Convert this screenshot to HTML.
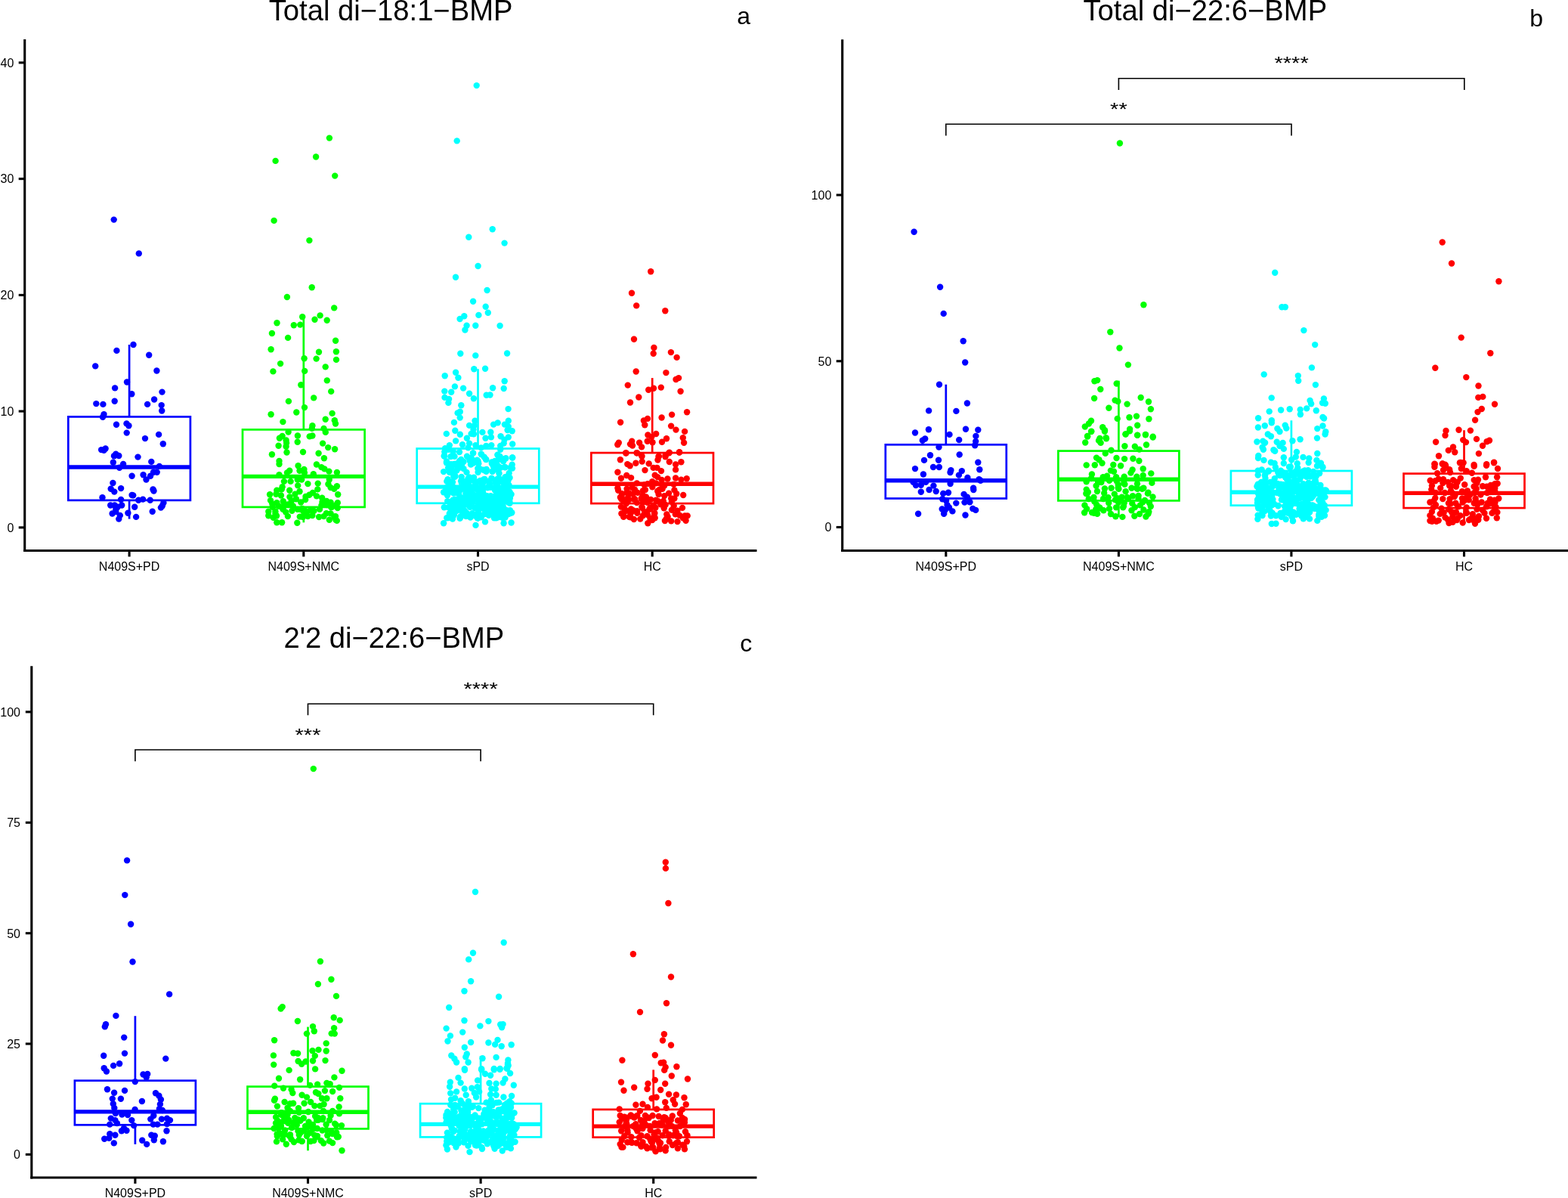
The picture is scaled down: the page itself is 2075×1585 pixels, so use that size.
<!DOCTYPE html>
<html><head><meta charset="utf-8"><title>BMP plots</title>
<style>html,body{margin:0;padding:0;background:#fff;}body{width:2075px;height:1585px;overflow:hidden;}svg{display:block;}</style>
</head><body>
<svg width="2075" height="1585" viewBox="0 0 2075 1585">
<rect width="2075" height="1585" fill="#fff"/>
<g stroke="#000" stroke-width="3.1" fill="none">
<line x1="32.7" y1="52.1" x2="32.7" y2="730.0"/>
<line x1="31.2" y1="728.5" x2="1001.5" y2="728.5"/>
<line x1="24.7" y1="697.9" x2="32.7" y2="697.9"/>
<line x1="24.7" y1="544.1" x2="32.7" y2="544.1"/>
<line x1="24.7" y1="390.4" x2="32.7" y2="390.4"/>
<line x1="24.7" y1="236.6" x2="32.7" y2="236.6"/>
<line x1="24.7" y1="82.9" x2="32.7" y2="82.9"/>
<line x1="171.1" y1="728.5" x2="171.1" y2="736.5"/>
<line x1="401.8" y1="728.5" x2="401.8" y2="736.5"/>
<line x1="632.5" y1="728.5" x2="632.5" y2="736.5"/>
<line x1="863.2" y1="728.5" x2="863.2" y2="736.5"/>
</g>
<g style="font-family:'Liberation Sans',Arial,Helvetica,sans-serif;font-size:16px" fill="#000">
<text x="18.4" y="703.7" text-anchor="end">0</text>
<text x="18.4" y="549.9" text-anchor="end">10</text>
<text x="18.4" y="396.2" text-anchor="end">20</text>
<text x="18.4" y="242.4" text-anchor="end">30</text>
<text x="18.4" y="88.7" text-anchor="end">40</text>
<text x="171.1" y="754.8" text-anchor="middle">N409S+PD</text>
<text x="401.8" y="754.8" text-anchor="middle">N409S+NMC</text>
<text x="632.5" y="754.8" text-anchor="middle">sPD</text>
<text x="863.2" y="754.8" text-anchor="middle">HC</text>
</g>
<text x="517.1" y="27.4" text-anchor="middle" style="font-family:'Liberation Sans',Arial,Helvetica,sans-serif;font-size:38.2px" fill="#000">Total di−18:1−BMP</text>
<text x="975.3" y="32.3" style="font-family:'Liberation Sans',Arial,Helvetica,sans-serif;font-size:32px" fill="#000">a</text>
<g stroke="#0000ff" fill="none" stroke-width="2.7">
<line x1="171.1" y1="456.0" x2="171.1" y2="551.4"/>
<line x1="171.1" y1="661.9" x2="171.1" y2="686.6"/>
<rect x="90.3" y="551.4" width="161.6" height="110.5"/>
<line x1="90.3" y1="618.0" x2="251.9" y2="618.0" stroke-width="5.4"/>
</g>
<g stroke="#00ff00" fill="none" stroke-width="2.7">
<line x1="401.8" y1="422.3" x2="401.8" y2="568.4"/>
<line x1="401.8" y1="670.9" x2="401.8" y2="691.3"/>
<rect x="321.0" y="568.4" width="161.6" height="102.5"/>
<line x1="321.0" y1="630.4" x2="482.6" y2="630.4" stroke-width="5.4"/>
</g>
<g stroke="#00ffff" fill="none" stroke-width="2.7">
<line x1="632.5" y1="488.2" x2="632.5" y2="593.5"/>
<line x1="632.5" y1="665.8" x2="632.5" y2="690.0"/>
<rect x="551.7" y="593.5" width="161.6" height="72.3"/>
<line x1="551.7" y1="644.1" x2="713.3" y2="644.1" stroke-width="5.4"/>
</g>
<g stroke="#ff0000" fill="none" stroke-width="2.7">
<line x1="863.2" y1="500.1" x2="863.2" y2="599.1"/>
<line x1="863.2" y1="666.1" x2="863.2" y2="692.0"/>
<rect x="782.4" y="599.1" width="161.6" height="67.0"/>
<line x1="782.4" y1="640.2" x2="944.0" y2="640.2" stroke-width="5.4"/>
</g>
<g fill="#0000ff"><circle cx="150.7" cy="290.6" r="4.2"/><circle cx="183.8" cy="335.4" r="4.2"/><circle cx="176.5" cy="456.0" r="4.2"/><circle cx="154.4" cy="463.9" r="4.2"/><circle cx="197.2" cy="469.7" r="4.2"/><circle cx="126.2" cy="484.4" r="4.2"/><circle cx="207.4" cy="490.5" r="4.2"/><circle cx="168.0" cy="505.5" r="4.2"/><circle cx="152.1" cy="513.4" r="4.2"/><circle cx="174.3" cy="521.3" r="4.2"/><circle cx="214.5" cy="518.6" r="4.2"/><circle cx="204.1" cy="528.5" r="4.2"/><circle cx="127.3" cy="534.1" r="4.2"/><circle cx="136.4" cy="534.9" r="4.2"/><circle cx="151.7" cy="530.8" r="4.2"/><circle cx="195.1" cy="534.9" r="4.2"/><circle cx="213.7" cy="536.1" r="4.2"/><circle cx="214.2" cy="543.5" r="4.2"/><circle cx="137.5" cy="548.1" r="4.2"/><circle cx="136.0" cy="551.7" r="4.2"/><circle cx="154.0" cy="561.7" r="4.2"/><circle cx="167.5" cy="560.4" r="4.2"/><circle cx="170.4" cy="563.2" r="4.2"/><circle cx="167.7" cy="572.6" r="4.2"/><circle cx="210.1" cy="574.9" r="4.2"/><circle cx="192.0" cy="580.1" r="4.2"/><circle cx="215.8" cy="587.2" r="4.2"/><circle cx="134.1" cy="595.1" r="4.2"/><circle cx="139.6" cy="593.5" r="4.2"/><circle cx="137.5" cy="595.9" r="4.2"/><circle cx="153.3" cy="600.6" r="4.2"/><circle cx="151.0" cy="603.3" r="4.2"/><circle cx="157.3" cy="603.0" r="4.2"/><circle cx="182.5" cy="604.6" r="4.2"/><circle cx="149.8" cy="611.7" r="4.2"/><circle cx="200.3" cy="610.9" r="4.2"/><circle cx="163.1" cy="614.0" r="4.2"/><circle cx="158.1" cy="618.8" r="4.2"/><circle cx="210.9" cy="616.9" r="4.2"/><circle cx="174.6" cy="629.8" r="4.2"/><circle cx="189.6" cy="628.2" r="4.2"/><circle cx="193.5" cy="634.5" r="4.2"/><circle cx="199.1" cy="629.8" r="4.2"/><circle cx="203.0" cy="624.8" r="4.2"/><circle cx="207.7" cy="624.8" r="4.2"/><circle cx="149.4" cy="639.0" r="4.2"/><circle cx="146.7" cy="646.8" r="4.2"/><circle cx="151.3" cy="650.6" r="4.2"/><circle cx="160.1" cy="646.1" r="4.2"/><circle cx="202.5" cy="647.5" r="4.2"/><circle cx="203.5" cy="649.5" r="4.2"/><circle cx="174.6" cy="655.0" r="4.2"/><circle cx="176.2" cy="655.4" r="4.2"/><circle cx="135.5" cy="658.2" r="4.2"/><circle cx="160.1" cy="661.0" r="4.2"/><circle cx="183.3" cy="661.7" r="4.2"/><circle cx="189.1" cy="660.6" r="4.2"/><circle cx="198.7" cy="661.7" r="4.2"/><circle cx="216.4" cy="665.3" r="4.2"/><circle cx="214.8" cy="669.2" r="4.2"/><circle cx="212.9" cy="671.6" r="4.2"/><circle cx="146.2" cy="668.5" r="4.2"/><circle cx="151.7" cy="668.5" r="4.2"/><circle cx="161.2" cy="668.5" r="4.2"/><circle cx="155.7" cy="670.8" r="4.2"/><circle cx="153.3" cy="674.0" r="4.2"/><circle cx="178.2" cy="670.8" r="4.2"/><circle cx="148.6" cy="679.5" r="4.2"/><circle cx="153.3" cy="677.1" r="4.2"/><circle cx="158.8" cy="681.9" r="4.2"/><circle cx="157.3" cy="686.6" r="4.2"/><circle cx="169.4" cy="678.7" r="4.2"/><circle cx="180.1" cy="683.9" r="4.2"/><circle cx="201.7" cy="676.7" r="4.2"/></g>
<g fill="#00ff00"><circle cx="435.9" cy="182.6" r="4.2"/><circle cx="418.1" cy="207.5" r="4.2"/><circle cx="364.6" cy="212.9" r="4.2"/><circle cx="443.2" cy="232.6" r="4.2"/><circle cx="362.6" cy="291.9" r="4.2"/><circle cx="409.4" cy="318.1" r="4.2"/><circle cx="412.7" cy="380.3" r="4.2"/><circle cx="379.9" cy="393.0" r="4.2"/><circle cx="442.2" cy="407.4" r="4.2"/><circle cx="400.2" cy="419.3" r="4.2"/><circle cx="423.6" cy="417.4" r="4.2"/><circle cx="416.5" cy="422.8" r="4.2"/><circle cx="432.7" cy="423.7" r="4.2"/><circle cx="366.5" cy="427.2" r="4.2"/><circle cx="388.8" cy="430.2" r="4.2"/><circle cx="397.3" cy="429.6" r="4.2"/><circle cx="359.9" cy="441.0" r="4.2"/><circle cx="381.1" cy="446.9" r="4.2"/><circle cx="444.1" cy="450.7" r="4.2"/><circle cx="358.6" cy="462.2" r="4.2"/><circle cx="422.0" cy="465.8" r="4.2"/><circle cx="444.9" cy="465.3" r="4.2"/><circle cx="402.6" cy="474.3" r="4.2"/><circle cx="418.6" cy="474.6" r="4.2"/><circle cx="445.0" cy="475.9" r="4.2"/><circle cx="371.1" cy="481.1" r="4.2"/><circle cx="430.7" cy="485.4" r="4.2"/><circle cx="361.4" cy="491.4" r="4.2"/><circle cx="403.2" cy="490.9" r="4.2"/><circle cx="432.8" cy="503.4" r="4.2"/><circle cx="398.3" cy="509.3" r="4.2"/><circle cx="438.2" cy="517.9" r="4.2"/><circle cx="415.2" cy="526.4" r="4.2"/><circle cx="381.9" cy="530.9" r="4.2"/><circle cx="403.0" cy="539.1" r="4.2"/><circle cx="358.6" cy="548.3" r="4.2"/><circle cx="392.3" cy="545.5" r="4.2"/><circle cx="439.6" cy="546.9" r="4.2"/><circle cx="430.7" cy="554.7" r="4.2"/><circle cx="442.8" cy="556.2" r="4.2"/><circle cx="374.4" cy="558.1" r="4.2"/><circle cx="444.0" cy="560.5" r="4.2"/><circle cx="413.4" cy="563.2" r="4.2"/><circle cx="412.8" cy="566.9" r="4.2"/><circle cx="428.5" cy="566.9" r="4.2"/><circle cx="430.8" cy="571.9" r="4.2"/><circle cx="381.6" cy="571.5" r="4.2"/><circle cx="369.9" cy="579.7" r="4.2"/><circle cx="373.6" cy="577.0" r="4.2"/><circle cx="378.6" cy="582.4" r="4.2"/><circle cx="379.1" cy="586.1" r="4.2"/><circle cx="378.6" cy="590.7" r="4.2"/><circle cx="379.5" cy="598.5" r="4.2"/><circle cx="368.6" cy="589.8" r="4.2"/><circle cx="393.9" cy="576.5" r="4.2"/><circle cx="393.7" cy="584.7" r="4.2"/><circle cx="409.7" cy="577.4" r="4.2"/><circle cx="413.4" cy="576.5" r="4.2"/><circle cx="427.1" cy="586.6" r="4.2"/><circle cx="434.2" cy="592.1" r="4.2"/><circle cx="443.1" cy="594.2" r="4.2"/><circle cx="401.0" cy="598.0" r="4.2"/><circle cx="359.9" cy="601.2" r="4.2"/><circle cx="421.6" cy="599.8" r="4.2"/><circle cx="428.9" cy="606.2" r="4.2"/><circle cx="369.5" cy="609.9" r="4.2"/><circle cx="369.5" cy="614.0" r="4.2"/><circle cx="394.6" cy="616.3" r="4.2"/><circle cx="418.9" cy="614.5" r="4.2"/><circle cx="425.3" cy="618.1" r="4.2"/><circle cx="429.4" cy="620.4" r="4.2"/><circle cx="435.4" cy="623.6" r="4.2"/><circle cx="445.9" cy="625.0" r="4.2"/><circle cx="383.2" cy="622.7" r="4.2"/><circle cx="380.0" cy="625.4" r="4.2"/><circle cx="402.4" cy="620.9" r="4.2"/><circle cx="402.9" cy="625.4" r="4.2"/><circle cx="396.5" cy="622.7" r="4.2"/><circle cx="369.5" cy="628.2" r="4.2"/><circle cx="414.8" cy="627.3" r="4.2"/><circle cx="435.8" cy="634.6" r="4.2"/><circle cx="375.9" cy="636.9" r="4.2"/><circle cx="384.6" cy="636.9" r="4.2"/><circle cx="393.7" cy="634.6" r="4.2"/><circle cx="399.2" cy="634.6" r="4.2"/><circle cx="394.2" cy="642.4" r="4.2"/><circle cx="407.4" cy="640.1" r="4.2"/><circle cx="420.7" cy="639.6" r="4.2"/><circle cx="434.4" cy="640.5" r="4.2"/><circle cx="445.9" cy="643.3" r="4.2"/><circle cx="437.6" cy="645.1" r="4.2"/><circle cx="442.2" cy="646.9" r="4.2"/><circle cx="373.6" cy="644.2" r="4.2"/><circle cx="366.3" cy="648.8" r="4.2"/><circle cx="372.7" cy="647.4" r="4.2"/><circle cx="383.2" cy="648.8" r="4.2"/><circle cx="396.5" cy="650.2" r="4.2"/><circle cx="420.3" cy="647.4" r="4.2"/><circle cx="413.9" cy="652.0" r="4.2"/><circle cx="409.3" cy="654.7" r="4.2"/><circle cx="357.1" cy="654.3" r="4.2"/><circle cx="365.4" cy="653.8" r="4.2"/><circle cx="390.5" cy="653.8" r="4.2"/><circle cx="391.9" cy="660.2" r="4.2"/><circle cx="404.2" cy="661.1" r="4.2"/><circle cx="426.2" cy="658.8" r="4.2"/><circle cx="432.2" cy="663.0" r="4.2"/><circle cx="437.6" cy="664.8" r="4.2"/><circle cx="447.2" cy="654.3" r="4.2"/><circle cx="446.8" cy="665.2" r="4.2"/><circle cx="360.3" cy="666.6" r="4.2"/><circle cx="369.0" cy="669.8" r="4.2"/><circle cx="376.3" cy="667.5" r="4.2"/><circle cx="380.9" cy="667.5" r="4.2"/><circle cx="387.8" cy="669.4" r="4.2"/><circle cx="355.3" cy="676.7" r="4.2"/><circle cx="355.3" cy="682.2" r="4.2"/><circle cx="364.4" cy="679.4" r="4.2"/><circle cx="374.5" cy="673.9" r="4.2"/><circle cx="378.2" cy="677.6" r="4.2"/><circle cx="380.9" cy="683.1" r="4.2"/><circle cx="386.4" cy="675.8" r="4.2"/><circle cx="393.7" cy="673.9" r="4.2"/><circle cx="400.1" cy="673.0" r="4.2"/><circle cx="401.0" cy="684.0" r="4.2"/><circle cx="407.4" cy="683.1" r="4.2"/><circle cx="411.1" cy="674.9" r="4.2"/><circle cx="423.0" cy="673.9" r="4.2"/><circle cx="422.1" cy="684.0" r="4.2"/><circle cx="428.5" cy="683.1" r="4.2"/><circle cx="435.8" cy="687.7" r="4.2"/><circle cx="444.0" cy="683.1" r="4.2"/><circle cx="446.8" cy="672.1" r="4.2"/><circle cx="437.6" cy="679.4" r="4.2"/><circle cx="361.7" cy="684.9" r="4.2"/><circle cx="366.3" cy="691.3" r="4.2"/><circle cx="373.1" cy="691.3" r="4.2"/><circle cx="393.3" cy="691.8" r="4.2"/><circle cx="406.5" cy="676.7" r="4.2"/><circle cx="397.8" cy="674.0" r="4.2"/><circle cx="439.3" cy="670.8" r="4.2"/><circle cx="402.7" cy="675.0" r="4.2"/><circle cx="374.3" cy="672.4" r="4.2"/><circle cx="413.4" cy="682.0" r="4.2"/><circle cx="366.3" cy="665.3" r="4.2"/><circle cx="366.0" cy="682.5" r="4.2"/><circle cx="419.0" cy="656.4" r="4.2"/><circle cx="444.4" cy="687.8" r="4.2"/><circle cx="415.5" cy="675.9" r="4.2"/><circle cx="371.9" cy="655.5" r="4.2"/><circle cx="404.5" cy="657.0" r="4.2"/><circle cx="374.7" cy="663.2" r="4.2"/><circle cx="360.6" cy="670.8" r="4.2"/><circle cx="396.8" cy="683.6" r="4.2"/><circle cx="403.7" cy="676.8" r="4.2"/><circle cx="402.0" cy="677.5" r="4.2"/><circle cx="398.2" cy="664.5" r="4.2"/><circle cx="445.8" cy="688.9" r="4.2"/><circle cx="431.9" cy="679.1" r="4.2"/><circle cx="385.7" cy="662.8" r="4.2"/><circle cx="383.4" cy="657.4" r="4.2"/><circle cx="425.4" cy="668.6" r="4.2"/><circle cx="432.5" cy="668.1" r="4.2"/><circle cx="442.3" cy="683.8" r="4.2"/><circle cx="358.0" cy="662.1" r="4.2"/><circle cx="438.1" cy="671.0" r="4.2"/><circle cx="444.3" cy="668.5" r="4.2"/><circle cx="364.4" cy="676.4" r="4.2"/><circle cx="426.5" cy="664.2" r="4.2"/></g>
<g fill="#00ffff"><circle cx="630.7" cy="113.1" r="4.2"/><circle cx="604.7" cy="186.4" r="4.2"/><circle cx="651.7" cy="303.2" r="4.2"/><circle cx="620.3" cy="313.7" r="4.2"/><circle cx="667.6" cy="321.6" r="4.2"/><circle cx="632.6" cy="352.0" r="4.2"/><circle cx="603.0" cy="366.7" r="4.2"/><circle cx="644.6" cy="384.0" r="4.2"/><circle cx="626.1" cy="398.8" r="4.2"/><circle cx="642.7" cy="405.8" r="4.2"/><circle cx="645.8" cy="413.8" r="4.2"/><circle cx="633.4" cy="416.9" r="4.2"/><circle cx="614.3" cy="418.2" r="4.2"/><circle cx="608.6" cy="422.0" r="4.2"/><circle cx="617.6" cy="430.8" r="4.2"/><circle cx="615.4" cy="436.5" r="4.2"/><circle cx="629.3" cy="430.8" r="4.2"/><circle cx="661.6" cy="431.0" r="4.2"/><circle cx="609.3" cy="467.7" r="4.2"/><circle cx="629.3" cy="470.4" r="4.2"/><circle cx="671.1" cy="467.5" r="4.2"/><circle cx="627.3" cy="488.2" r="4.2"/><circle cx="642.1" cy="487.8" r="4.2"/><circle cx="588.7" cy="497.2" r="4.2"/><circle cx="603.1" cy="492.7" r="4.2"/><circle cx="606.4" cy="499.7" r="4.2"/><circle cx="667.7" cy="504.2" r="4.2"/><circle cx="666.7" cy="514.0" r="4.2"/><circle cx="601.9" cy="511.4" r="4.2"/><circle cx="613.1" cy="513.6" r="4.2"/><circle cx="652.1" cy="513.2" r="4.2"/><circle cx="588.3" cy="517.6" r="4.2"/><circle cx="597.2" cy="518.7" r="4.2"/><circle cx="621.1" cy="520.8" r="4.2"/><circle cx="643.7" cy="522.7" r="4.2"/><circle cx="648.5" cy="522.5" r="4.2"/><circle cx="588.5" cy="525.9" r="4.2"/><circle cx="594.1" cy="528.0" r="4.2"/><circle cx="593.4" cy="532.9" r="4.2"/><circle cx="626.9" cy="527.2" r="4.2"/><circle cx="610.3" cy="536.2" r="4.2"/><circle cx="672.6" cy="541.1" r="4.2"/><circle cx="605.6" cy="546.4" r="4.2"/><circle cx="608.8" cy="544.8" r="4.2"/><circle cx="608.7" cy="552.6" r="4.2"/><circle cx="628.5" cy="556.7" r="4.2"/><circle cx="672.8" cy="556.7" r="4.2"/><circle cx="600.9" cy="558.9" r="4.2"/><circle cx="621.1" cy="562.9" r="4.2"/><circle cx="627.7" cy="562.9" r="4.2"/><circle cx="653.1" cy="561.6" r="4.2"/><circle cx="658.7" cy="559.4" r="4.2"/><circle cx="667.9" cy="561.6" r="4.2"/><circle cx="672.8" cy="564.5" r="4.2"/><circle cx="671.6" cy="569.0" r="4.2"/><circle cx="677.7" cy="570.2" r="4.2"/><circle cx="590.8" cy="573.9" r="4.2"/><circle cx="602.3" cy="569.8" r="4.2"/><circle cx="608.8" cy="574.8" r="4.2"/><circle cx="626.5" cy="568.2" r="4.2"/><circle cx="623.6" cy="573.9" r="4.2"/><circle cx="626.9" cy="574.3" r="4.2"/><circle cx="638.4" cy="571.9" r="4.2"/><circle cx="649.3" cy="571.7" r="4.2"/><circle cx="642.5" cy="579.7" r="4.2"/><circle cx="649.9" cy="578.4" r="4.2"/><circle cx="662.6" cy="577.2" r="4.2"/><circle cx="672.8" cy="578.4" r="4.2"/><circle cx="617.9" cy="579.7" r="4.2"/><circle cx="603.1" cy="583.4" r="4.2"/><circle cx="621.1" cy="586.6" r="4.2"/><circle cx="612.0" cy="588.3" r="4.2"/><circle cx="594.9" cy="589.1" r="4.2"/><circle cx="667.5" cy="581.7" r="4.2"/><circle cx="666.7" cy="586.6" r="4.2"/><circle cx="678.2" cy="587.5" r="4.2"/><circle cx="629.3" cy="589.1" r="4.2"/><circle cx="643.3" cy="589.9" r="4.2"/><circle cx="650.3" cy="589.1" r="4.2"/><circle cx="662.2" cy="589.9" r="4.2"/><circle cx="636.7" cy="592.4" r="4.2"/><circle cx="619.5" cy="592.4" r="4.2"/><circle cx="589.1" cy="593.2" r="4.2"/><circle cx="588.3" cy="597.7" r="4.2"/><circle cx="594.1" cy="594.8" r="4.2"/><circle cx="599.8" cy="597.3" r="4.2"/><circle cx="608.0" cy="598.1" r="4.2"/><circle cx="587.9" cy="603.5" r="4.2"/><circle cx="598.2" cy="603.0" r="4.2"/><circle cx="601.5" cy="603.9" r="4.2"/><circle cx="626.1" cy="599.4" r="4.2"/><circle cx="636.7" cy="600.6" r="4.2"/><circle cx="640.8" cy="604.7" r="4.2"/><circle cx="643.3" cy="608.0" r="4.2"/><circle cx="658.5" cy="601.8" r="4.2"/><circle cx="661.3" cy="603.9" r="4.2"/><circle cx="678.2" cy="605.5" r="4.2"/><circle cx="662.2" cy="594.8" r="4.2"/><circle cx="591.0" cy="610.5" r="4.2"/><circle cx="608.0" cy="610.0" r="4.2"/><circle cx="626.5" cy="609.5" r="4.2"/><circle cx="632.0" cy="610.0" r="4.2"/><circle cx="655.0" cy="610.0" r="4.2"/><circle cx="587.1" cy="692.2" r="4.2"/><circle cx="629.5" cy="694.9" r="4.2"/><circle cx="642.0" cy="690.4" r="4.2"/><circle cx="666.6" cy="692.2" r="4.2"/><circle cx="676.6" cy="691.5" r="4.2"/><circle cx="608.6" cy="685.9" r="4.2"/><circle cx="598.9" cy="686.6" r="4.2"/><circle cx="591.3" cy="685.2" r="4.2"/><circle cx="646.8" cy="681.7" r="4.2"/><circle cx="678.0" cy="605.4" r="4.2"/><circle cx="677.7" cy="614.8" r="4.2"/><circle cx="678.0" cy="619.6" r="4.2"/><circle cx="626.0" cy="599.5" r="4.2"/><circle cx="626.7" cy="609.9" r="4.2"/><circle cx="632.6" cy="610.3" r="4.2"/><circle cx="643.0" cy="607.8" r="4.2"/><circle cx="637.1" cy="601.2" r="4.2"/><circle cx="658.6" cy="601.9" r="4.2"/><circle cx="661.4" cy="604.0" r="4.2"/><circle cx="657.2" cy="610.3" r="4.2"/><circle cx="674.6" cy="632.1" r="4.2"/><circle cx="587.1" cy="651.2" r="4.2"/><circle cx="587.8" cy="671.3" r="4.2"/><circle cx="587.1" cy="624.1" r="4.2"/><circle cx="590.9" cy="612.3" r="4.2"/><circle cx="587.8" cy="603.3" r="4.2"/><circle cx="676.6" cy="654.0" r="4.2"/><circle cx="677.3" cy="678.3" r="4.2"/><circle cx="601.6" cy="678.4" r="4.2"/><circle cx="655.7" cy="648.8" r="4.2"/><circle cx="632.6" cy="658.5" r="4.2"/><circle cx="646.0" cy="675.4" r="4.2"/><circle cx="598.1" cy="637.4" r="4.2"/><circle cx="661.9" cy="657.6" r="4.2"/><circle cx="655.6" cy="636.1" r="4.2"/><circle cx="628.3" cy="672.1" r="4.2"/><circle cx="609.7" cy="683.3" r="4.2"/><circle cx="667.5" cy="637.5" r="4.2"/><circle cx="592.2" cy="663.1" r="4.2"/><circle cx="670.8" cy="655.1" r="4.2"/><circle cx="608.6" cy="657.1" r="4.2"/><circle cx="592.5" cy="647.1" r="4.2"/><circle cx="627.7" cy="660.8" r="4.2"/><circle cx="610.0" cy="647.5" r="4.2"/><circle cx="608.8" cy="659.0" r="4.2"/><circle cx="614.9" cy="637.1" r="4.2"/><circle cx="662.0" cy="663.8" r="4.2"/><circle cx="645.2" cy="645.3" r="4.2"/><circle cx="675.4" cy="679.0" r="4.2"/><circle cx="600.4" cy="652.6" r="4.2"/><circle cx="652.0" cy="671.6" r="4.2"/><circle cx="670.5" cy="657.1" r="4.2"/><circle cx="661.4" cy="669.5" r="4.2"/><circle cx="616.1" cy="665.4" r="4.2"/><circle cx="665.9" cy="678.3" r="4.2"/><circle cx="633.5" cy="665.5" r="4.2"/><circle cx="593.0" cy="648.1" r="4.2"/><circle cx="658.6" cy="656.7" r="4.2"/><circle cx="604.9" cy="663.4" r="4.2"/><circle cx="650.5" cy="669.7" r="4.2"/><circle cx="622.2" cy="657.9" r="4.2"/><circle cx="633.7" cy="674.9" r="4.2"/><circle cx="634.8" cy="655.7" r="4.2"/><circle cx="632.1" cy="637.5" r="4.2"/><circle cx="593.7" cy="671.2" r="4.2"/><circle cx="674.6" cy="665.7" r="4.2"/><circle cx="623.8" cy="644.5" r="4.2"/><circle cx="633.2" cy="685.1" r="4.2"/><circle cx="656.3" cy="663.0" r="4.2"/><circle cx="664.0" cy="647.6" r="4.2"/><circle cx="634.2" cy="683.6" r="4.2"/><circle cx="639.7" cy="659.0" r="4.2"/><circle cx="613.2" cy="663.4" r="4.2"/><circle cx="672.3" cy="636.3" r="4.2"/><circle cx="657.4" cy="677.0" r="4.2"/><circle cx="666.2" cy="673.0" r="4.2"/><circle cx="659.6" cy="661.9" r="4.2"/><circle cx="638.3" cy="657.3" r="4.2"/><circle cx="594.8" cy="679.5" r="4.2"/><circle cx="639.0" cy="646.0" r="4.2"/><circle cx="633.4" cy="660.2" r="4.2"/><circle cx="620.7" cy="653.3" r="4.2"/><circle cx="636.3" cy="667.2" r="4.2"/><circle cx="642.7" cy="658.9" r="4.2"/><circle cx="592.4" cy="647.5" r="4.2"/><circle cx="605.2" cy="665.2" r="4.2"/><circle cx="664.0" cy="675.9" r="4.2"/><circle cx="658.6" cy="676.8" r="4.2"/><circle cx="612.0" cy="678.1" r="4.2"/><circle cx="647.9" cy="640.2" r="4.2"/><circle cx="591.4" cy="636.7" r="4.2"/><circle cx="655.0" cy="648.5" r="4.2"/><circle cx="599.4" cy="667.2" r="4.2"/><circle cx="619.6" cy="639.5" r="4.2"/><circle cx="603.7" cy="662.4" r="4.2"/><circle cx="604.5" cy="649.6" r="4.2"/><circle cx="651.2" cy="658.7" r="4.2"/><circle cx="617.7" cy="659.7" r="4.2"/><circle cx="592.0" cy="655.3" r="4.2"/><circle cx="626.2" cy="645.4" r="4.2"/><circle cx="599.4" cy="681.0" r="4.2"/><circle cx="633.9" cy="646.5" r="4.2"/><circle cx="642.1" cy="676.9" r="4.2"/><circle cx="591.8" cy="636.9" r="4.2"/><circle cx="602.6" cy="671.9" r="4.2"/><circle cx="603.8" cy="671.2" r="4.2"/><circle cx="648.3" cy="663.2" r="4.2"/><circle cx="609.0" cy="684.8" r="4.2"/><circle cx="658.6" cy="661.8" r="4.2"/><circle cx="609.2" cy="668.4" r="4.2"/><circle cx="624.0" cy="664.8" r="4.2"/><circle cx="617.6" cy="667.5" r="4.2"/><circle cx="595.1" cy="650.9" r="4.2"/><circle cx="673.2" cy="679.8" r="4.2"/><circle cx="616.3" cy="678.9" r="4.2"/><circle cx="616.7" cy="683.0" r="4.2"/><circle cx="654.0" cy="656.8" r="4.2"/><circle cx="611.7" cy="636.4" r="4.2"/><circle cx="665.6" cy="637.9" r="4.2"/><circle cx="660.5" cy="684.1" r="4.2"/><circle cx="639.0" cy="644.6" r="4.2"/><circle cx="664.6" cy="684.7" r="4.2"/><circle cx="650.5" cy="661.4" r="4.2"/><circle cx="622.5" cy="653.3" r="4.2"/><circle cx="607.7" cy="669.7" r="4.2"/><circle cx="627.2" cy="645.7" r="4.2"/><circle cx="599.0" cy="669.3" r="4.2"/><circle cx="615.5" cy="661.0" r="4.2"/><circle cx="618.0" cy="679.6" r="4.2"/><circle cx="667.4" cy="636.9" r="4.2"/><circle cx="607.3" cy="652.4" r="4.2"/><circle cx="674.9" cy="675.1" r="4.2"/><circle cx="619.2" cy="646.7" r="4.2"/><circle cx="648.0" cy="677.9" r="4.2"/><circle cx="670.2" cy="653.2" r="4.2"/><circle cx="665.9" cy="670.4" r="4.2"/><circle cx="631.7" cy="685.3" r="4.2"/><circle cx="610.2" cy="672.3" r="4.2"/><circle cx="597.3" cy="644.5" r="4.2"/><circle cx="668.3" cy="646.6" r="4.2"/><circle cx="655.3" cy="666.0" r="4.2"/><circle cx="662.3" cy="654.4" r="4.2"/><circle cx="619.3" cy="650.6" r="4.2"/><circle cx="664.6" cy="666.2" r="4.2"/><circle cx="672.1" cy="680.4" r="4.2"/><circle cx="601.6" cy="663.6" r="4.2"/><circle cx="599.0" cy="638.0" r="4.2"/><circle cx="596.3" cy="679.3" r="4.2"/><circle cx="657.8" cy="677.4" r="4.2"/><circle cx="619.3" cy="666.8" r="4.2"/><circle cx="657.2" cy="654.9" r="4.2"/><circle cx="639.1" cy="647.2" r="4.2"/><circle cx="597.0" cy="649.3" r="4.2"/><circle cx="666.6" cy="664.2" r="4.2"/><circle cx="669.6" cy="658.9" r="4.2"/><circle cx="613.8" cy="675.4" r="4.2"/><circle cx="661.2" cy="636.6" r="4.2"/><circle cx="647.7" cy="640.6" r="4.2"/><circle cx="599.9" cy="680.3" r="4.2"/><circle cx="593.4" cy="648.0" r="4.2"/><circle cx="675.0" cy="657.1" r="4.2"/><circle cx="599.9" cy="644.4" r="4.2"/><circle cx="610.8" cy="673.2" r="4.2"/><circle cx="598.8" cy="681.5" r="4.2"/><circle cx="622.5" cy="684.5" r="4.2"/><circle cx="668.2" cy="650.7" r="4.2"/><circle cx="611.8" cy="659.9" r="4.2"/><circle cx="598.6" cy="668.6" r="4.2"/><circle cx="593.4" cy="636.5" r="4.2"/><circle cx="674.5" cy="650.8" r="4.2"/><circle cx="641.3" cy="658.5" r="4.2"/><circle cx="616.9" cy="639.1" r="4.2"/><circle cx="668.6" cy="684.5" r="4.2"/><circle cx="673.4" cy="641.6" r="4.2"/><circle cx="608.5" cy="666.9" r="4.2"/><circle cx="674.3" cy="663.1" r="4.2"/><circle cx="649.2" cy="669.1" r="4.2"/><circle cx="612.3" cy="663.1" r="4.2"/><circle cx="616.4" cy="648.3" r="4.2"/><circle cx="597.0" cy="650.0" r="4.2"/><circle cx="674.6" cy="658.4" r="4.2"/><circle cx="646.1" cy="668.2" r="4.2"/><circle cx="670.9" cy="655.5" r="4.2"/><circle cx="616.4" cy="652.4" r="4.2"/><circle cx="617.2" cy="678.4" r="4.2"/><circle cx="666.8" cy="651.1" r="4.2"/><circle cx="618.8" cy="663.2" r="4.2"/><circle cx="639.8" cy="665.8" r="4.2"/><circle cx="611.1" cy="637.0" r="4.2"/><circle cx="611.0" cy="639.6" r="4.2"/><circle cx="637.4" cy="639.5" r="4.2"/><circle cx="596.5" cy="667.8" r="4.2"/><circle cx="615.0" cy="675.6" r="4.2"/><circle cx="632.4" cy="679.1" r="4.2"/><circle cx="603.3" cy="661.1" r="4.2"/><circle cx="658.4" cy="639.9" r="4.2"/><circle cx="671.6" cy="644.7" r="4.2"/><circle cx="656.8" cy="685.2" r="4.2"/><circle cx="660.7" cy="652.0" r="4.2"/><circle cx="599.2" cy="661.7" r="4.2"/><circle cx="669.1" cy="650.7" r="4.2"/><circle cx="666.9" cy="643.1" r="4.2"/><circle cx="668.3" cy="637.6" r="4.2"/><circle cx="617.2" cy="681.2" r="4.2"/><circle cx="659.1" cy="681.4" r="4.2"/><circle cx="662.3" cy="673.3" r="4.2"/><circle cx="649.3" cy="644.9" r="4.2"/><circle cx="627.2" cy="643.9" r="4.2"/><circle cx="651.5" cy="669.4" r="4.2"/><circle cx="611.7" cy="639.2" r="4.2"/><circle cx="672.9" cy="676.4" r="4.2"/><circle cx="637.2" cy="663.1" r="4.2"/><circle cx="663.2" cy="658.7" r="4.2"/><circle cx="624.0" cy="652.9" r="4.2"/><circle cx="612.2" cy="637.2" r="4.2"/><circle cx="645.6" cy="656.8" r="4.2"/><circle cx="639.1" cy="639.1" r="4.2"/><circle cx="620.5" cy="642.9" r="4.2"/><circle cx="600.8" cy="649.0" r="4.2"/><circle cx="661.3" cy="655.9" r="4.2"/><circle cx="624.5" cy="666.6" r="4.2"/><circle cx="610.1" cy="636.4" r="4.2"/><circle cx="635.5" cy="661.0" r="4.2"/><circle cx="645.8" cy="657.9" r="4.2"/><circle cx="649.0" cy="672.6" r="4.2"/><circle cx="610.5" cy="660.8" r="4.2"/><circle cx="631.2" cy="647.3" r="4.2"/><circle cx="625.5" cy="664.0" r="4.2"/><circle cx="668.0" cy="681.9" r="4.2"/><circle cx="613.7" cy="668.3" r="4.2"/><circle cx="594.1" cy="639.6" r="4.2"/><circle cx="634.0" cy="679.9" r="4.2"/><circle cx="603.7" cy="674.3" r="4.2"/><circle cx="665.9" cy="651.6" r="4.2"/><circle cx="649.6" cy="678.4" r="4.2"/><circle cx="622.0" cy="671.1" r="4.2"/><circle cx="653.3" cy="665.7" r="4.2"/><circle cx="663.6" cy="680.8" r="4.2"/><circle cx="672.6" cy="664.6" r="4.2"/><circle cx="605.2" cy="648.5" r="4.2"/><circle cx="608.7" cy="664.5" r="4.2"/><circle cx="655.2" cy="638.6" r="4.2"/><circle cx="648.6" cy="671.9" r="4.2"/><circle cx="619.9" cy="661.8" r="4.2"/><circle cx="604.2" cy="672.5" r="4.2"/><circle cx="593.5" cy="685.1" r="4.2"/><circle cx="659.5" cy="667.4" r="4.2"/><circle cx="613.0" cy="681.6" r="4.2"/><circle cx="672.5" cy="643.0" r="4.2"/><circle cx="656.7" cy="678.1" r="4.2"/><circle cx="646.7" cy="671.0" r="4.2"/><circle cx="628.3" cy="682.2" r="4.2"/><circle cx="673.5" cy="655.1" r="4.2"/><circle cx="659.0" cy="657.6" r="4.2"/><circle cx="604.2" cy="652.3" r="4.2"/><circle cx="600.9" cy="681.4" r="4.2"/><circle cx="672.5" cy="642.0" r="4.2"/><circle cx="641.7" cy="656.4" r="4.2"/><circle cx="600.2" cy="650.8" r="4.2"/><circle cx="611.3" cy="673.5" r="4.2"/><circle cx="590.3" cy="645.5" r="4.2"/><circle cx="627.7" cy="637.1" r="4.2"/><circle cx="644.0" cy="666.3" r="4.2"/><circle cx="661.8" cy="646.3" r="4.2"/><circle cx="614.5" cy="663.1" r="4.2"/><circle cx="613.5" cy="665.3" r="4.2"/><circle cx="611.6" cy="670.2" r="4.2"/><circle cx="658.0" cy="676.4" r="4.2"/><circle cx="673.7" cy="663.3" r="4.2"/><circle cx="632.2" cy="678.8" r="4.2"/><circle cx="656.1" cy="664.5" r="4.2"/><circle cx="623.0" cy="650.2" r="4.2"/><circle cx="599.3" cy="676.4" r="4.2"/><circle cx="600.2" cy="673.4" r="4.2"/><circle cx="636.9" cy="684.2" r="4.2"/><circle cx="655.5" cy="684.7" r="4.2"/><circle cx="601.7" cy="661.0" r="4.2"/><circle cx="639.2" cy="651.6" r="4.2"/><circle cx="633.3" cy="653.8" r="4.2"/><circle cx="635.4" cy="636.0" r="4.2"/><circle cx="628.0" cy="658.5" r="4.2"/><circle cx="616.2" cy="656.0" r="4.2"/><circle cx="657.3" cy="670.2" r="4.2"/><circle cx="632.3" cy="668.4" r="4.2"/><circle cx="622.5" cy="646.2" r="4.2"/><circle cx="590.3" cy="649.9" r="4.2"/><circle cx="641.4" cy="680.1" r="4.2"/><circle cx="661.3" cy="661.5" r="4.2"/><circle cx="674.9" cy="659.1" r="4.2"/><circle cx="661.8" cy="656.4" r="4.2"/><circle cx="654.0" cy="685.4" r="4.2"/><circle cx="616.3" cy="644.5" r="4.2"/><circle cx="643.3" cy="662.5" r="4.2"/><circle cx="620.9" cy="636.2" r="4.2"/><circle cx="623.5" cy="657.3" r="4.2"/><circle cx="624.9" cy="679.1" r="4.2"/><circle cx="640.3" cy="672.7" r="4.2"/><circle cx="667.2" cy="673.4" r="4.2"/><circle cx="632.4" cy="673.3" r="4.2"/><circle cx="645.1" cy="668.4" r="4.2"/><circle cx="644.2" cy="656.3" r="4.2"/><circle cx="644.1" cy="667.7" r="4.2"/><circle cx="670.6" cy="675.1" r="4.2"/><circle cx="662.8" cy="674.4" r="4.2"/><circle cx="660.1" cy="666.3" r="4.2"/><circle cx="620.1" cy="649.2" r="4.2"/><circle cx="650.9" cy="679.7" r="4.2"/><circle cx="636.8" cy="643.6" r="4.2"/><circle cx="661.6" cy="660.2" r="4.2"/><circle cx="630.2" cy="638.3" r="4.2"/><circle cx="633.9" cy="673.2" r="4.2"/><circle cx="626.3" cy="653.8" r="4.2"/><circle cx="646.5" cy="637.0" r="4.2"/><circle cx="633.6" cy="683.3" r="4.2"/><circle cx="649.4" cy="656.1" r="4.2"/><circle cx="649.2" cy="666.2" r="4.2"/><circle cx="608.0" cy="646.4" r="4.2"/><circle cx="666.2" cy="649.5" r="4.2"/><circle cx="596.4" cy="677.5" r="4.2"/><circle cx="635.0" cy="654.4" r="4.2"/><circle cx="634.0" cy="672.8" r="4.2"/><circle cx="604.5" cy="668.7" r="4.2"/><circle cx="651.4" cy="676.8" r="4.2"/><circle cx="613.2" cy="666.5" r="4.2"/><circle cx="610.0" cy="664.1" r="4.2"/><circle cx="604.8" cy="675.5" r="4.2"/><circle cx="664.5" cy="652.5" r="4.2"/><circle cx="609.1" cy="684.2" r="4.2"/><circle cx="650.8" cy="633.2" r="4.2"/><circle cx="592.6" cy="634.2" r="4.2"/><circle cx="643.5" cy="623.7" r="4.2"/><circle cx="627.1" cy="631.7" r="4.2"/><circle cx="657.5" cy="621.4" r="4.2"/><circle cx="643.8" cy="621.0" r="4.2"/><circle cx="673.7" cy="626.0" r="4.2"/><circle cx="668.5" cy="631.1" r="4.2"/><circle cx="642.1" cy="622.7" r="4.2"/><circle cx="635.3" cy="620.5" r="4.2"/><circle cx="601.9" cy="630.9" r="4.2"/><circle cx="621.1" cy="631.5" r="4.2"/><circle cx="610.7" cy="630.9" r="4.2"/><circle cx="651.8" cy="623.5" r="4.2"/><circle cx="599.1" cy="625.1" r="4.2"/><circle cx="632.3" cy="619.8" r="4.2"/><circle cx="606.1" cy="619.0" r="4.2"/><circle cx="641.4" cy="634.0" r="4.2"/><circle cx="608.6" cy="618.6" r="4.2"/><circle cx="650.5" cy="632.7" r="4.2"/><circle cx="672.9" cy="629.0" r="4.2"/><circle cx="619.5" cy="633.1" r="4.2"/><circle cx="600.2" cy="630.5" r="4.2"/><circle cx="598.2" cy="625.2" r="4.2"/><circle cx="632.6" cy="624.8" r="4.2"/><circle cx="604.5" cy="622.2" r="4.2"/><circle cx="660.5" cy="626.3" r="4.2"/><circle cx="639.9" cy="621.8" r="4.2"/><circle cx="651.5" cy="623.9" r="4.2"/><circle cx="641.1" cy="634.4" r="4.2"/><circle cx="675.5" cy="618.8" r="4.2"/><circle cx="658.6" cy="633.4" r="4.2"/><circle cx="617.5" cy="624.9" r="4.2"/><circle cx="639.9" cy="634.5" r="4.2"/><circle cx="624.4" cy="633.8" r="4.2"/><circle cx="655.2" cy="620.7" r="4.2"/><circle cx="668.6" cy="618.3" r="4.2"/><circle cx="602.5" cy="630.0" r="4.2"/><circle cx="594.9" cy="624.8" r="4.2"/><circle cx="601.2" cy="626.3" r="4.2"/><circle cx="662.2" cy="634.3" r="4.2"/><circle cx="593.1" cy="619.1" r="4.2"/><circle cx="662.3" cy="618.8" r="4.2"/><circle cx="613.5" cy="620.1" r="4.2"/><circle cx="597.8" cy="618.5" r="4.2"/><circle cx="623.3" cy="611.9" r="4.2"/><circle cx="625.6" cy="613.1" r="4.2"/><circle cx="624.5" cy="607.7" r="4.2"/><circle cx="623.0" cy="614.6" r="4.2"/><circle cx="623.5" cy="605.9" r="4.2"/><circle cx="596.8" cy="614.2" r="4.2"/><circle cx="621.2" cy="607.2" r="4.2"/><circle cx="621.8" cy="609.7" r="4.2"/><circle cx="618.0" cy="603.7" r="4.2"/><circle cx="610.2" cy="608.0" r="4.2"/><circle cx="603.2" cy="613.6" r="4.2"/><circle cx="613.5" cy="610.9" r="4.2"/><circle cx="626.8" cy="611.9" r="4.2"/><circle cx="627.2" cy="612.0" r="4.2"/><circle cx="605.6" cy="614.7" r="4.2"/><circle cx="600.9" cy="614.0" r="4.2"/><circle cx="633.3" cy="613.2" r="4.2"/><circle cx="596.4" cy="604.1" r="4.2"/><circle cx="631.4" cy="608.6" r="4.2"/><circle cx="611.0" cy="614.8" r="4.2"/><circle cx="650.9" cy="613.4" r="4.2"/><circle cx="659.8" cy="607.8" r="4.2"/><circle cx="658.7" cy="615.9" r="4.2"/><circle cx="669.4" cy="606.3" r="4.2"/><circle cx="661.5" cy="607.3" r="4.2"/><circle cx="667.6" cy="607.2" r="4.2"/><circle cx="650.8" cy="611.4" r="4.2"/><circle cx="666.1" cy="610.4" r="4.2"/><circle cx="652.9" cy="617.1" r="4.2"/><circle cx="667.8" cy="618.0" r="4.2"/></g>
<g fill="#ff0000"><circle cx="861.2" cy="359.2" r="4.2"/><circle cx="836.0" cy="387.8" r="4.2"/><circle cx="842.2" cy="404.4" r="4.2"/><circle cx="880.3" cy="411.2" r="4.2"/><circle cx="839.0" cy="448.8" r="4.2"/><circle cx="865.4" cy="460.0" r="4.2"/><circle cx="864.7" cy="467.7" r="4.2"/><circle cx="887.9" cy="466.1" r="4.2"/><circle cx="895.6" cy="472.9" r="4.2"/><circle cx="841.7" cy="491.5" r="4.2"/><circle cx="881.4" cy="493.1" r="4.2"/><circle cx="894.5" cy="502.0" r="4.2"/><circle cx="898.1" cy="500.1" r="4.2"/><circle cx="830.8" cy="509.6" r="4.2"/><circle cx="858.2" cy="515.7" r="4.2"/><circle cx="865.0" cy="513.8" r="4.2"/><circle cx="874.8" cy="512.6" r="4.2"/><circle cx="900.6" cy="517.7" r="4.2"/><circle cx="845.3" cy="525.5" r="4.2"/><circle cx="834.0" cy="532.5" r="4.2"/><circle cx="909.1" cy="545.2" r="4.2"/><circle cx="889.1" cy="548.6" r="4.2"/><circle cx="875.6" cy="552.5" r="4.2"/><circle cx="857.0" cy="553.9" r="4.2"/><circle cx="851.9" cy="556.5" r="4.2"/><circle cx="853.3" cy="562.2" r="4.2"/><circle cx="821.1" cy="558.8" r="4.2"/><circle cx="888.1" cy="563.6" r="4.2"/><circle cx="894.5" cy="568.6" r="4.2"/><circle cx="906.1" cy="570.9" r="4.2"/><circle cx="857.4" cy="575.5" r="4.2"/><circle cx="868.2" cy="574.0" r="4.2"/><circle cx="862.3" cy="578.1" r="4.2"/><circle cx="882.0" cy="580.2" r="4.2"/><circle cx="903.8" cy="579.2" r="4.2"/><circle cx="905.1" cy="585.7" r="4.2"/><circle cx="876.0" cy="584.8" r="4.2"/><circle cx="856.7" cy="583.8" r="4.2"/><circle cx="863.5" cy="585.3" r="4.2"/><circle cx="818.8" cy="585.7" r="4.2"/><circle cx="817.3" cy="588.3" r="4.2"/><circle cx="836.2" cy="583.8" r="4.2"/><circle cx="834.0" cy="587.6" r="4.2"/><circle cx="837.0" cy="589.5" r="4.2"/><circle cx="846.1" cy="585.7" r="4.2"/><circle cx="849.1" cy="591.4" r="4.2"/><circle cx="828.3" cy="599.3" r="4.2"/><circle cx="842.7" cy="599.3" r="4.2"/><circle cx="885.8" cy="598.6" r="4.2"/><circle cx="899.1" cy="598.2" r="4.2"/><circle cx="871.8" cy="603.8" r="4.2"/><circle cx="849.5" cy="603.8" r="4.2"/><circle cx="880.5" cy="604.2" r="4.2"/><circle cx="828.4" cy="599.5" r="4.2"/><circle cx="842.8" cy="599.2" r="4.2"/><circle cx="849.0" cy="602.6" r="4.2"/><circle cx="871.6" cy="604.0" r="4.2"/><circle cx="870.5" cy="608.5" r="4.2"/><circle cx="880.6" cy="602.6" r="4.2"/><circle cx="885.4" cy="599.2" r="4.2"/><circle cx="899.0" cy="598.5" r="4.2"/><circle cx="820.9" cy="608.2" r="4.2"/><circle cx="830.3" cy="614.1" r="4.2"/><circle cx="833.7" cy="616.2" r="4.2"/><circle cx="841.4" cy="612.7" r="4.2"/><circle cx="849.7" cy="610.6" r="4.2"/><circle cx="858.7" cy="613.4" r="4.2"/><circle cx="853.5" cy="622.1" r="4.2"/><circle cx="864.6" cy="618.9" r="4.2"/><circle cx="869.5" cy="618.9" r="4.2"/><circle cx="875.0" cy="623.1" r="4.2"/><circle cx="885.8" cy="611.0" r="4.2"/><circle cx="894.1" cy="614.4" r="4.2"/><circle cx="901.4" cy="611.3" r="4.2"/><circle cx="894.1" cy="621.4" r="4.2"/><circle cx="817.4" cy="624.8" r="4.2"/><circle cx="829.2" cy="629.0" r="4.2"/><circle cx="835.1" cy="632.1" r="4.2"/><circle cx="822.0" cy="632.8" r="4.2"/><circle cx="866.7" cy="628.7" r="4.2"/><circle cx="870.2" cy="631.1" r="4.2"/><circle cx="875.7" cy="634.9" r="4.2"/><circle cx="883.4" cy="633.5" r="4.2"/><circle cx="894.1" cy="632.5" r="4.2"/><circle cx="901.4" cy="634.6" r="4.2"/><circle cx="908.7" cy="633.2" r="4.2"/><circle cx="842.8" cy="639.4" r="4.2"/><circle cx="857.0" cy="640.1" r="4.2"/><circle cx="863.2" cy="637.3" r="4.2"/><circle cx="868.1" cy="639.4" r="4.2"/><circle cx="817.4" cy="645.7" r="4.2"/><circle cx="818.1" cy="648.8" r="4.2"/><circle cx="829.6" cy="646.7" r="4.2"/><circle cx="836.5" cy="645.0" r="4.2"/><circle cx="840.0" cy="647.7" r="4.2"/><circle cx="853.9" cy="648.1" r="4.2"/><circle cx="870.2" cy="649.8" r="4.2"/><circle cx="875.7" cy="646.4" r="4.2"/><circle cx="892.4" cy="648.4" r="4.2"/><circle cx="885.1" cy="652.6" r="4.2"/><circle cx="895.2" cy="653.3" r="4.2"/><circle cx="904.2" cy="655.0" r="4.2"/><circle cx="822.6" cy="656.1" r="4.2"/><circle cx="832.7" cy="652.6" r="4.2"/><circle cx="843.8" cy="651.9" r="4.2"/><circle cx="850.7" cy="655.4" r="4.2"/><circle cx="854.9" cy="657.5" r="4.2"/><circle cx="871.6" cy="654.0" r="4.2"/><circle cx="879.2" cy="656.1" r="4.2"/><circle cx="888.2" cy="659.5" r="4.2"/><circle cx="892.4" cy="659.5" r="4.2"/><circle cx="822.3" cy="660.2" r="4.2"/><circle cx="830.3" cy="660.2" r="4.2"/><circle cx="840.0" cy="660.2" r="4.2"/><circle cx="849.7" cy="660.2" r="4.2"/><circle cx="861.2" cy="660.9" r="4.2"/><circle cx="868.1" cy="661.6" r="4.2"/><circle cx="877.8" cy="663.0" r="4.2"/><circle cx="842.8" cy="665.1" r="4.2"/><circle cx="864.6" cy="668.6" r="4.2"/><circle cx="874.3" cy="667.2" r="4.2"/><circle cx="880.6" cy="667.9" r="4.2"/><circle cx="891.7" cy="669.3" r="4.2"/><circle cx="821.9" cy="670.6" r="4.2"/><circle cx="850.0" cy="672.0" r="4.2"/><circle cx="828.9" cy="675.8" r="4.2"/><circle cx="838.2" cy="675.5" r="4.2"/><circle cx="843.1" cy="676.2" r="4.2"/><circle cx="859.1" cy="674.1" r="4.2"/><circle cx="888.9" cy="674.8" r="4.2"/><circle cx="896.5" cy="675.8" r="4.2"/><circle cx="825.1" cy="681.7" r="4.2"/><circle cx="832.7" cy="683.8" r="4.2"/><circle cx="838.9" cy="687.0" r="4.2"/><circle cx="847.3" cy="686.6" r="4.2"/><circle cx="850.7" cy="682.4" r="4.2"/><circle cx="857.0" cy="681.1" r="4.2"/><circle cx="866.4" cy="679.0" r="4.2"/><circle cx="866.7" cy="685.2" r="4.2"/><circle cx="863.2" cy="688.0" r="4.2"/><circle cx="857.3" cy="692.2" r="4.2"/><circle cx="882.3" cy="680.4" r="4.2"/><circle cx="879.9" cy="689.0" r="4.2"/><circle cx="888.2" cy="689.4" r="4.2"/><circle cx="896.5" cy="690.1" r="4.2"/><circle cx="893.8" cy="680.4" r="4.2"/><circle cx="899.3" cy="681.7" r="4.2"/><circle cx="906.3" cy="682.4" r="4.2"/><circle cx="909.7" cy="682.4" r="4.2"/><circle cx="907.6" cy="688.7" r="4.2"/><circle cx="860.3" cy="671.6" r="4.2"/><circle cx="876.6" cy="646.8" r="4.2"/><circle cx="820.9" cy="658.0" r="4.2"/><circle cx="843.3" cy="678.9" r="4.2"/><circle cx="878.7" cy="668.9" r="4.2"/><circle cx="867.4" cy="671.7" r="4.2"/><circle cx="832.4" cy="661.1" r="4.2"/><circle cx="833.8" cy="683.5" r="4.2"/><circle cx="825.0" cy="679.3" r="4.2"/><circle cx="826.3" cy="673.0" r="4.2"/><circle cx="848.6" cy="659.4" r="4.2"/><circle cx="891.6" cy="640.9" r="4.2"/><circle cx="825.2" cy="683.9" r="4.2"/><circle cx="863.3" cy="644.4" r="4.2"/><circle cx="903.9" cy="685.4" r="4.2"/><circle cx="829.6" cy="660.3" r="4.2"/><circle cx="831.5" cy="655.0" r="4.2"/><circle cx="872.8" cy="647.8" r="4.2"/><circle cx="879.2" cy="642.5" r="4.2"/><circle cx="834.6" cy="679.2" r="4.2"/><circle cx="854.0" cy="660.1" r="4.2"/><circle cx="870.7" cy="662.9" r="4.2"/><circle cx="852.7" cy="641.5" r="4.2"/><circle cx="881.7" cy="686.4" r="4.2"/><circle cx="903.0" cy="671.9" r="4.2"/><circle cx="850.3" cy="657.4" r="4.2"/><circle cx="878.7" cy="672.3" r="4.2"/><circle cx="829.7" cy="651.3" r="4.2"/><circle cx="850.9" cy="664.5" r="4.2"/><circle cx="888.9" cy="664.0" r="4.2"/><circle cx="822.4" cy="679.5" r="4.2"/><circle cx="856.6" cy="664.9" r="4.2"/><circle cx="838.9" cy="660.5" r="4.2"/><circle cx="853.0" cy="677.1" r="4.2"/><circle cx="828.7" cy="666.4" r="4.2"/><circle cx="835.1" cy="673.4" r="4.2"/><circle cx="823.1" cy="653.3" r="4.2"/><circle cx="849.3" cy="670.6" r="4.2"/><circle cx="824.4" cy="662.0" r="4.2"/><circle cx="837.7" cy="653.5" r="4.2"/><circle cx="860.5" cy="686.0" r="4.2"/><circle cx="860.9" cy="685.9" r="4.2"/><circle cx="834.2" cy="684.4" r="4.2"/><circle cx="851.0" cy="649.1" r="4.2"/><circle cx="883.6" cy="683.8" r="4.2"/></g>
<g stroke="#000" stroke-width="3.1" fill="none">
<line x1="1114.7" y1="52.3" x2="1114.7" y2="730.0"/>
<line x1="1113.2" y1="728.5" x2="2076.0" y2="728.5"/>
<line x1="1106.7" y1="697.5" x2="1114.7" y2="697.5"/>
<line x1="1106.7" y1="477.8" x2="1114.7" y2="477.8"/>
<line x1="1106.7" y1="258.0" x2="1114.7" y2="258.0"/>
<line x1="1251.8" y1="728.5" x2="1251.8" y2="736.5"/>
<line x1="1480.4" y1="728.5" x2="1480.4" y2="736.5"/>
<line x1="1708.9" y1="728.5" x2="1708.9" y2="736.5"/>
<line x1="1937.5" y1="728.5" x2="1937.5" y2="736.5"/>
</g>
<g style="font-family:'Liberation Sans',Arial,Helvetica,sans-serif;font-size:16px" fill="#000">
<text x="1100.3" y="703.3" text-anchor="end">0</text>
<text x="1100.3" y="483.6" text-anchor="end">50</text>
<text x="1100.3" y="263.8" text-anchor="end">100</text>
<text x="1251.8" y="754.8" text-anchor="middle">N409S+PD</text>
<text x="1480.4" y="754.8" text-anchor="middle">N409S+NMC</text>
<text x="1708.9" y="754.8" text-anchor="middle">sPD</text>
<text x="1937.5" y="754.8" text-anchor="middle">HC</text>
</g>
<text x="1594.8" y="27.4" text-anchor="middle" style="font-family:'Liberation Sans',Arial,Helvetica,sans-serif;font-size:38.2px" fill="#000">Total di−22:6−BMP</text>
<text x="2024.3" y="34.6" style="font-family:'Liberation Sans',Arial,Helvetica,sans-serif;font-size:32px" fill="#000">b</text>
<g stroke="#0000ff" fill="none" stroke-width="2.7">
<line x1="1251.8" y1="508.7" x2="1251.8" y2="588.3"/>
<line x1="1251.8" y1="659.5" x2="1251.8" y2="681.0"/>
<rect x="1171.8" y="588.3" width="160.0" height="71.2"/>
<line x1="1171.8" y1="635.8" x2="1331.8" y2="635.8" stroke-width="5.4"/>
</g>
<g stroke="#00ff00" fill="none" stroke-width="2.7">
<line x1="1480.4" y1="503.7" x2="1480.4" y2="596.6"/>
<line x1="1480.4" y1="662.4" x2="1480.4" y2="684.0"/>
<rect x="1400.4" y="596.6" width="160.0" height="65.8"/>
<line x1="1400.4" y1="634.2" x2="1560.4" y2="634.2" stroke-width="5.4"/>
</g>
<g stroke="#00ffff" fill="none" stroke-width="2.7">
<line x1="1708.9" y1="556.3" x2="1708.9" y2="623.0"/>
<line x1="1708.9" y1="668.7" x2="1708.9" y2="692.0"/>
<rect x="1628.9" y="623.0" width="160.0" height="45.7"/>
<line x1="1628.9" y1="651.2" x2="1788.9" y2="651.2" stroke-width="5.4"/>
</g>
<g stroke="#ff0000" fill="none" stroke-width="2.7">
<line x1="1937.5" y1="569.2" x2="1937.5" y2="626.6"/>
<line x1="1937.5" y1="672.1" x2="1937.5" y2="692.0"/>
<rect x="1857.5" y="626.6" width="160.0" height="45.5"/>
<line x1="1857.5" y1="652.4" x2="2017.5" y2="652.4" stroke-width="5.4"/>
</g>
<g fill="#0000ff"><circle cx="1209.6" cy="306.8" r="4.2"/><circle cx="1244.1" cy="379.7" r="4.2"/><circle cx="1248.7" cy="414.9" r="4.2"/><circle cx="1274.7" cy="451.2" r="4.2"/><circle cx="1277.2" cy="479.5" r="4.2"/><circle cx="1243.0" cy="508.7" r="4.2"/><circle cx="1279.9" cy="533.5" r="4.2"/><circle cx="1229.1" cy="543.4" r="4.2"/><circle cx="1265.4" cy="543.9" r="4.2"/><circle cx="1211.0" cy="572.5" r="4.2"/><circle cx="1228.9" cy="568.3" r="4.2"/><circle cx="1224.2" cy="580.5" r="4.2"/><circle cx="1220.8" cy="582.7" r="4.2"/><circle cx="1256.5" cy="574.9" r="4.2"/><circle cx="1278.0" cy="567.8" r="4.2"/><circle cx="1294.3" cy="568.8" r="4.2"/><circle cx="1291.4" cy="576.9" r="4.2"/><circle cx="1269.2" cy="582.0" r="4.2"/><circle cx="1291.2" cy="583.9" r="4.2"/><circle cx="1290.2" cy="589.3" r="4.2"/><circle cx="1242.5" cy="591.6" r="4.2"/><circle cx="1231.0" cy="602.3" r="4.2"/><circle cx="1269.7" cy="601.5" r="4.2"/><circle cx="1223.0" cy="608.9" r="4.2"/><circle cx="1242.0" cy="608.7" r="4.2"/><circle cx="1294.3" cy="611.8" r="4.2"/><circle cx="1211.0" cy="620.1" r="4.2"/><circle cx="1235.0" cy="618.0" r="4.2"/><circle cx="1242.8" cy="618.0" r="4.2"/><circle cx="1258.4" cy="622.1" r="4.2"/><circle cx="1257.5" cy="625.0" r="4.2"/><circle cx="1296.3" cy="621.3" r="4.2"/><circle cx="1272.8" cy="623.1" r="4.2"/><circle cx="1268.9" cy="628.6" r="4.2"/><circle cx="1221.9" cy="627.5" r="4.2"/><circle cx="1280.4" cy="631.9" r="4.2"/><circle cx="1295.6" cy="634.3" r="4.2"/><circle cx="1297.6" cy="635.8" r="4.2"/><circle cx="1208.5" cy="637.7" r="4.2"/><circle cx="1212.0" cy="642.1" r="4.2"/><circle cx="1218.8" cy="641.7" r="4.2"/><circle cx="1225.2" cy="637.7" r="4.2"/><circle cx="1235.4" cy="642.6" r="4.2"/><circle cx="1257.6" cy="640.0" r="4.2"/><circle cx="1288.1" cy="645.6" r="4.2"/><circle cx="1288.3" cy="648.0" r="4.2"/><circle cx="1218.8" cy="650.8" r="4.2"/><circle cx="1229.6" cy="648.0" r="4.2"/><circle cx="1238.7" cy="650.0" r="4.2"/><circle cx="1248.2" cy="652.9" r="4.2"/><circle cx="1255.0" cy="651.7" r="4.2"/><circle cx="1275.6" cy="653.9" r="4.2"/><circle cx="1280.0" cy="657.8" r="4.2"/><circle cx="1247.2" cy="660.2" r="4.2"/><circle cx="1252.1" cy="662.2" r="4.2"/><circle cx="1253.5" cy="668.1" r="4.2"/><circle cx="1283.4" cy="664.2" r="4.2"/><circle cx="1276.5" cy="664.6" r="4.2"/><circle cx="1265.3" cy="665.6" r="4.2"/><circle cx="1256.0" cy="671.5" r="4.2"/><circle cx="1246.7" cy="673.5" r="4.2"/><circle cx="1250.6" cy="674.9" r="4.2"/><circle cx="1260.4" cy="676.4" r="4.2"/><circle cx="1249.1" cy="679.8" r="4.2"/><circle cx="1287.3" cy="673.0" r="4.2"/><circle cx="1291.2" cy="674.9" r="4.2"/><circle cx="1215.1" cy="679.8" r="4.2"/><circle cx="1277.5" cy="681.5" r="4.2"/></g>
<g fill="#00ff00"><circle cx="1481.9" cy="189.5" r="4.2"/><circle cx="1513.4" cy="403.3" r="4.2"/><circle cx="1469.3" cy="439.3" r="4.2"/><circle cx="1481.5" cy="460.5" r="4.2"/><circle cx="1492.9" cy="482.6" r="4.2"/><circle cx="1448.4" cy="504.3" r="4.2"/><circle cx="1452.2" cy="503.1" r="4.2"/><circle cx="1477.7" cy="507.5" r="4.2"/><circle cx="1456.3" cy="515.0" r="4.2"/><circle cx="1448.1" cy="527.0" r="4.2"/><circle cx="1475.6" cy="529.6" r="4.2"/><circle cx="1479.4" cy="531.1" r="4.2"/><circle cx="1491.6" cy="534.6" r="4.2"/><circle cx="1509.7" cy="526.0" r="4.2"/><circle cx="1520.0" cy="531.5" r="4.2"/><circle cx="1522.9" cy="541.2" r="4.2"/><circle cx="1467.4" cy="539.7" r="4.2"/><circle cx="1478.7" cy="553.9" r="4.2"/><circle cx="1494.5" cy="552.3" r="4.2"/><circle cx="1504.0" cy="550.6" r="4.2"/><circle cx="1520.4" cy="554.2" r="4.2"/><circle cx="1444.0" cy="556.7" r="4.2"/><circle cx="1440.9" cy="560.5" r="4.2"/><circle cx="1435.8" cy="564.5" r="4.2"/><circle cx="1459.2" cy="565.3" r="4.2"/><circle cx="1462.0" cy="569.3" r="4.2"/><circle cx="1444.3" cy="570.6" r="4.2"/><circle cx="1505.2" cy="562.8" r="4.2"/><circle cx="1495.1" cy="567.7" r="4.2"/><circle cx="1489.5" cy="574.4" r="4.2"/><circle cx="1505.2" cy="575.6" r="4.2"/><circle cx="1516.0" cy="575.0" r="4.2"/><circle cx="1525.7" cy="577.8" r="4.2"/><circle cx="1439.0" cy="576.9" r="4.2"/><circle cx="1455.4" cy="580.0" r="4.2"/><circle cx="1463.6" cy="579.2" r="4.2"/><circle cx="1444.1" cy="571.1" r="4.2"/><circle cx="1461.9" cy="570.8" r="4.2"/><circle cx="1439.2" cy="577.6" r="4.2"/><circle cx="1436.2" cy="585.5" r="4.2"/><circle cx="1454.0" cy="582.9" r="4.2"/><circle cx="1456.6" cy="585.9" r="4.2"/><circle cx="1464.0" cy="580.2" r="4.2"/><circle cx="1489.6" cy="574.5" r="4.2"/><circle cx="1494.9" cy="570.4" r="4.2"/><circle cx="1505.1" cy="575.9" r="4.2"/><circle cx="1515.9" cy="575.3" r="4.2"/><circle cx="1525.7" cy="578.6" r="4.2"/><circle cx="1488.4" cy="590.3" r="4.2"/><circle cx="1501.8" cy="590.8" r="4.2"/><circle cx="1507.7" cy="594.6" r="4.2"/><circle cx="1517.0" cy="588.5" r="4.2"/><circle cx="1470.5" cy="595.7" r="4.2"/><circle cx="1462.8" cy="599.9" r="4.2"/><circle cx="1451.0" cy="605.6" r="4.2"/><circle cx="1454.4" cy="608.2" r="4.2"/><circle cx="1458.5" cy="612.8" r="4.2"/><circle cx="1437.7" cy="615.4" r="4.2"/><circle cx="1448.8" cy="615.3" r="4.2"/><circle cx="1477.5" cy="606.0" r="4.2"/><circle cx="1488.1" cy="607.1" r="4.2"/><circle cx="1499.4" cy="606.7" r="4.2"/><circle cx="1507.4" cy="609.7" r="4.2"/><circle cx="1473.3" cy="615.0" r="4.2"/><circle cx="1483.1" cy="616.2" r="4.2"/><circle cx="1469.9" cy="622.6" r="4.2"/><circle cx="1474.0" cy="623.7" r="4.2"/><circle cx="1498.6" cy="621.5" r="4.2"/><circle cx="1512.7" cy="620.3" r="4.2"/><circle cx="1496.4" cy="625.6" r="4.2"/><circle cx="1523.3" cy="626.4" r="4.2"/><circle cx="1444.9" cy="627.5" r="4.2"/><circle cx="1459.7" cy="631.3" r="4.2"/><circle cx="1465.0" cy="629.8" r="4.2"/><circle cx="1477.1" cy="631.3" r="4.2"/><circle cx="1487.7" cy="630.6" r="4.2"/><circle cx="1504.3" cy="630.6" r="4.2"/><circle cx="1512.7" cy="629.0" r="4.2"/><circle cx="1437.7" cy="637.4" r="4.2"/><circle cx="1450.6" cy="642.7" r="4.2"/><circle cx="1457.4" cy="638.1" r="4.2"/><circle cx="1468.0" cy="635.9" r="4.2"/><circle cx="1477.8" cy="636.6" r="4.2"/><circle cx="1488.4" cy="640.8" r="4.2"/><circle cx="1497.5" cy="645.7" r="4.2"/><circle cx="1513.4" cy="645.7" r="4.2"/><circle cx="1524.4" cy="638.9" r="4.2"/><circle cx="1470.6" cy="645.7" r="4.2"/><circle cx="1479.7" cy="645.3" r="4.2"/><circle cx="1437.7" cy="647.6" r="4.2"/><circle cx="1461.9" cy="646.5" r="4.2"/><circle cx="1489.6" cy="650.2" r="4.2"/><circle cx="1438.5" cy="653.3" r="4.2"/><circle cx="1461.2" cy="652.5" r="4.2"/><circle cx="1474.8" cy="653.6" r="4.2"/><circle cx="1519.5" cy="651.8" r="4.2"/><circle cx="1499.0" cy="656.3" r="4.2"/><circle cx="1506.6" cy="655.9" r="4.2"/><circle cx="1525.5" cy="657.4" r="4.2"/><circle cx="1484.6" cy="657.8" r="4.2"/><circle cx="1478.6" cy="659.3" r="4.2"/><circle cx="1440.7" cy="660.1" r="4.2"/><circle cx="1448.3" cy="663.5" r="4.2"/><circle cx="1467.2" cy="665.4" r="4.2"/><circle cx="1480.1" cy="664.6" r="4.2"/><circle cx="1487.7" cy="665.4" r="4.2"/><circle cx="1498.3" cy="666.1" r="4.2"/><circle cx="1508.9" cy="668.4" r="4.2"/><circle cx="1521.0" cy="665.4" r="4.2"/><circle cx="1435.4" cy="668.4" r="4.2"/><circle cx="1438.1" cy="673.3" r="4.2"/><circle cx="1435.1" cy="678.3" r="4.2"/><circle cx="1450.6" cy="675.2" r="4.2"/><circle cx="1455.1" cy="671.4" r="4.2"/><circle cx="1460.4" cy="675.2" r="4.2"/><circle cx="1452.1" cy="679.8" r="4.2"/><circle cx="1468.0" cy="673.0" r="4.2"/><circle cx="1477.1" cy="671.4" r="4.2"/><circle cx="1486.2" cy="671.4" r="4.2"/><circle cx="1497.5" cy="675.2" r="4.2"/><circle cx="1501.3" cy="682.8" r="4.2"/><circle cx="1513.4" cy="674.5" r="4.2"/><circle cx="1519.5" cy="679.8" r="4.2"/><circle cx="1516.4" cy="683.5" r="4.2"/><circle cx="1476.3" cy="683.2" r="4.2"/><circle cx="1485.4" cy="683.9" r="4.2"/><circle cx="1444.0" cy="633.0" r="4.2"/><circle cx="1452.0" cy="650.0" r="4.2"/><circle cx="1505.0" cy="640.0" r="4.2"/><circle cx="1515.0" cy="662.0" r="4.2"/><circle cx="1460.0" cy="660.0" r="4.2"/><circle cx="1493.0" cy="660.0" r="4.2"/><circle cx="1470.0" cy="680.0" r="4.2"/><circle cx="1445.0" cy="678.0" r="4.2"/><circle cx="1508.0" cy="680.0" r="4.2"/><circle cx="1451.2" cy="667.7" r="4.2"/><circle cx="1491.6" cy="658.0" r="4.2"/><circle cx="1455.6" cy="672.5" r="4.2"/><circle cx="1506.5" cy="659.6" r="4.2"/><circle cx="1480.4" cy="646.9" r="4.2"/><circle cx="1437.3" cy="653.1" r="4.2"/><circle cx="1487.3" cy="639.2" r="4.2"/><circle cx="1505.3" cy="646.7" r="4.2"/><circle cx="1457.0" cy="637.9" r="4.2"/><circle cx="1522.8" cy="670.0" r="4.2"/><circle cx="1512.3" cy="664.3" r="4.2"/><circle cx="1439.9" cy="651.1" r="4.2"/><circle cx="1479.8" cy="641.3" r="4.2"/><circle cx="1518.9" cy="652.9" r="4.2"/><circle cx="1450.3" cy="673.6" r="4.2"/><circle cx="1447.7" cy="678.7" r="4.2"/><circle cx="1476.0" cy="661.4" r="4.2"/><circle cx="1466.5" cy="658.3" r="4.2"/><circle cx="1453.1" cy="637.7" r="4.2"/><circle cx="1511.5" cy="646.8" r="4.2"/><circle cx="1504.1" cy="645.6" r="4.2"/><circle cx="1520.3" cy="677.1" r="4.2"/><circle cx="1501.9" cy="671.1" r="4.2"/><circle cx="1486.9" cy="669.6" r="4.2"/><circle cx="1447.5" cy="657.9" r="4.2"/></g>
<g fill="#00ffff"><circle cx="1687.2" cy="360.8" r="4.2"/><circle cx="1696.4" cy="406.2" r="4.2"/><circle cx="1700.8" cy="406.2" r="4.2"/><circle cx="1725.4" cy="437.1" r="4.2"/><circle cx="1740.2" cy="456.1" r="4.2"/><circle cx="1735.9" cy="486.4" r="4.2"/><circle cx="1672.7" cy="495.4" r="4.2"/><circle cx="1717.8" cy="497.1" r="4.2"/><circle cx="1718.2" cy="503.8" r="4.2"/><circle cx="1740.9" cy="509.1" r="4.2"/><circle cx="1682.7" cy="526.4" r="4.2"/><circle cx="1733.6" cy="529.9" r="4.2"/><circle cx="1735.1" cy="534.3" r="4.2"/><circle cx="1751.9" cy="527.4" r="4.2"/><circle cx="1750.0" cy="533.1" r="4.2"/><circle cx="1753.8" cy="533.7" r="4.2"/><circle cx="1729.2" cy="540.4" r="4.2"/><circle cx="1679.7" cy="544.4" r="4.2"/><circle cx="1695.1" cy="542.5" r="4.2"/><circle cx="1706.7" cy="541.3" r="4.2"/><circle cx="1720.7" cy="541.9" r="4.2"/><circle cx="1741.8" cy="543.2" r="4.2"/><circle cx="1720.9" cy="548.2" r="4.2"/><circle cx="1665.1" cy="553.3" r="4.2"/><circle cx="1682.8" cy="556.3" r="4.2"/><circle cx="1682.8" cy="559.4" r="4.2"/><circle cx="1750.5" cy="551.9" r="4.2"/><circle cx="1752.1" cy="553.5" r="4.2"/><circle cx="1664.9" cy="565.5" r="4.2"/><circle cx="1673.8" cy="563.2" r="4.2"/><circle cx="1690.4" cy="567.0" r="4.2"/><circle cx="1693.5" cy="571.0" r="4.2"/><circle cx="1700.7" cy="562.6" r="4.2"/><circle cx="1702.3" cy="566.6" r="4.2"/><circle cx="1743.3" cy="567.1" r="4.2"/><circle cx="1750.5" cy="563.5" r="4.2"/><circle cx="1754.3" cy="571.3" r="4.2"/><circle cx="1753.6" cy="574.5" r="4.2"/><circle cx="1677.8" cy="574.5" r="4.2"/><circle cx="1681.9" cy="577.3" r="4.2"/><circle cx="1710.4" cy="583.2" r="4.2"/><circle cx="1720.6" cy="581.2" r="4.2"/><circle cx="1743.0" cy="579.6" r="4.2"/><circle cx="1663.4" cy="584.5" r="4.2"/><circle cx="1671.3" cy="583.6" r="4.2"/><circle cx="1674.1" cy="585.8" r="4.2"/><circle cx="1689.7" cy="584.8" r="4.2"/><circle cx="1697.6" cy="585.9" r="4.2"/><circle cx="1670.6" cy="591.7" r="4.2"/><circle cx="1671.9" cy="594.8" r="4.2"/><circle cx="1693.5" cy="590.1" r="4.2"/><circle cx="1698.8" cy="593.9" r="4.2"/><circle cx="1685.4" cy="595.2" r="4.2"/><circle cx="1687.2" cy="596.7" r="4.2"/><circle cx="1715.9" cy="598.0" r="4.2"/><circle cx="1743.3" cy="600.0" r="4.2"/><circle cx="1665.3" cy="603.0" r="4.2"/><circle cx="1665.0" cy="606.1" r="4.2"/><circle cx="1672.5" cy="608.9" r="4.2"/><circle cx="1698.8" cy="605.2" r="4.2"/><circle cx="1698.8" cy="613.0" r="4.2"/><circle cx="1709.2" cy="608.3" r="4.2"/><circle cx="1714.8" cy="604.5" r="4.2"/><circle cx="1716.7" cy="613.3" r="4.2"/><circle cx="1724.5" cy="604.9" r="4.2"/><circle cx="1732.3" cy="606.4" r="4.2"/><circle cx="1731.7" cy="612.1" r="4.2"/><circle cx="1742.4" cy="608.9" r="4.2"/><circle cx="1748.0" cy="612.7" r="4.2"/><circle cx="1743.0" cy="616.5" r="4.2"/><circle cx="1750.5" cy="618.3" r="4.2"/><circle cx="1681.9" cy="611.8" r="4.2"/><circle cx="1686.6" cy="613.0" r="4.2"/><circle cx="1687.9" cy="618.3" r="4.2"/><circle cx="1707.9" cy="617.7" r="4.2"/><circle cx="1717.3" cy="619.0" r="4.2"/><circle cx="1726.7" cy="622.4" r="4.2"/><circle cx="1669.7" cy="621.5" r="4.2"/><circle cx="1664.7" cy="622.7" r="4.2"/><circle cx="1678.8" cy="622.7" r="4.2"/><circle cx="1664.4" cy="686.7" r="4.2"/><circle cx="1682.8" cy="693.0" r="4.2"/><circle cx="1688.5" cy="692.7" r="4.2"/><circle cx="1701.6" cy="687.1" r="4.2"/><circle cx="1711.0" cy="689.2" r="4.2"/><circle cx="1724.8" cy="686.4" r="4.2"/><circle cx="1733.0" cy="686.4" r="4.2"/><circle cx="1743.3" cy="688.9" r="4.2"/><circle cx="1753.0" cy="682.0" r="4.2"/><circle cx="1664.7" cy="628.5" r="4.2"/><circle cx="1669.1" cy="637.9" r="4.2"/><circle cx="1664.7" cy="640.7" r="4.2"/><circle cx="1678.8" cy="623.5" r="4.2"/><circle cx="1681.0" cy="637.9" r="4.2"/><circle cx="1746.1" cy="626.3" r="4.2"/><circle cx="1740.5" cy="636.0" r="4.2"/><circle cx="1747.4" cy="642.0" r="4.2"/><circle cx="1754.9" cy="649.1" r="4.2"/><circle cx="1731.7" cy="638.8" r="4.2"/><circle cx="1706.0" cy="617.8" r="4.2"/><circle cx="1749.9" cy="617.5" r="4.2"/><circle cx="1751.0" cy="681.8" r="4.2"/><circle cx="1668.2" cy="645.6" r="4.2"/><circle cx="1739.9" cy="672.9" r="4.2"/><circle cx="1724.6" cy="654.9" r="4.2"/><circle cx="1718.7" cy="667.5" r="4.2"/><circle cx="1716.5" cy="648.7" r="4.2"/><circle cx="1702.6" cy="658.5" r="4.2"/><circle cx="1729.5" cy="683.8" r="4.2"/><circle cx="1750.3" cy="664.9" r="4.2"/><circle cx="1703.9" cy="653.3" r="4.2"/><circle cx="1666.3" cy="643.2" r="4.2"/><circle cx="1705.8" cy="655.4" r="4.2"/><circle cx="1698.0" cy="679.5" r="4.2"/><circle cx="1711.4" cy="665.5" r="4.2"/><circle cx="1684.7" cy="643.0" r="4.2"/><circle cx="1692.9" cy="647.7" r="4.2"/><circle cx="1709.9" cy="683.9" r="4.2"/><circle cx="1725.1" cy="649.6" r="4.2"/><circle cx="1745.2" cy="675.5" r="4.2"/><circle cx="1730.6" cy="680.1" r="4.2"/><circle cx="1733.2" cy="675.2" r="4.2"/><circle cx="1695.5" cy="683.2" r="4.2"/><circle cx="1751.5" cy="648.8" r="4.2"/><circle cx="1732.4" cy="672.0" r="4.2"/><circle cx="1705.4" cy="664.3" r="4.2"/><circle cx="1708.1" cy="680.8" r="4.2"/><circle cx="1709.1" cy="676.9" r="4.2"/><circle cx="1695.6" cy="679.1" r="4.2"/><circle cx="1745.8" cy="661.4" r="4.2"/><circle cx="1715.2" cy="680.7" r="4.2"/><circle cx="1729.6" cy="662.4" r="4.2"/><circle cx="1683.4" cy="655.6" r="4.2"/><circle cx="1727.4" cy="649.0" r="4.2"/><circle cx="1746.5" cy="653.3" r="4.2"/><circle cx="1746.8" cy="655.0" r="4.2"/><circle cx="1751.1" cy="671.7" r="4.2"/><circle cx="1709.4" cy="663.7" r="4.2"/><circle cx="1722.9" cy="666.7" r="4.2"/><circle cx="1691.7" cy="650.7" r="4.2"/><circle cx="1710.1" cy="681.2" r="4.2"/><circle cx="1720.3" cy="645.2" r="4.2"/><circle cx="1738.5" cy="672.5" r="4.2"/><circle cx="1746.5" cy="650.0" r="4.2"/><circle cx="1731.5" cy="644.5" r="4.2"/><circle cx="1723.1" cy="653.5" r="4.2"/><circle cx="1683.8" cy="678.8" r="4.2"/><circle cx="1672.8" cy="663.9" r="4.2"/><circle cx="1741.6" cy="652.3" r="4.2"/><circle cx="1682.4" cy="679.0" r="4.2"/><circle cx="1701.9" cy="672.1" r="4.2"/><circle cx="1665.9" cy="657.2" r="4.2"/><circle cx="1678.8" cy="670.3" r="4.2"/><circle cx="1670.6" cy="682.1" r="4.2"/><circle cx="1665.3" cy="672.6" r="4.2"/><circle cx="1664.9" cy="652.7" r="4.2"/><circle cx="1737.8" cy="648.6" r="4.2"/><circle cx="1679.9" cy="671.0" r="4.2"/><circle cx="1698.5" cy="643.8" r="4.2"/><circle cx="1754.1" cy="648.4" r="4.2"/><circle cx="1666.3" cy="656.5" r="4.2"/><circle cx="1719.6" cy="673.2" r="4.2"/><circle cx="1673.4" cy="656.2" r="4.2"/><circle cx="1665.8" cy="660.8" r="4.2"/><circle cx="1733.5" cy="673.1" r="4.2"/><circle cx="1746.0" cy="673.7" r="4.2"/><circle cx="1742.3" cy="671.6" r="4.2"/><circle cx="1706.5" cy="651.5" r="4.2"/><circle cx="1723.8" cy="655.3" r="4.2"/><circle cx="1672.4" cy="660.8" r="4.2"/><circle cx="1743.5" cy="647.4" r="4.2"/><circle cx="1716.8" cy="658.5" r="4.2"/><circle cx="1710.4" cy="648.0" r="4.2"/><circle cx="1751.3" cy="652.9" r="4.2"/><circle cx="1718.8" cy="659.6" r="4.2"/><circle cx="1664.7" cy="665.4" r="4.2"/><circle cx="1675.9" cy="644.4" r="4.2"/><circle cx="1666.1" cy="648.8" r="4.2"/><circle cx="1671.8" cy="668.7" r="4.2"/><circle cx="1709.8" cy="683.3" r="4.2"/><circle cx="1748.9" cy="683.8" r="4.2"/><circle cx="1684.4" cy="660.7" r="4.2"/><circle cx="1686.1" cy="666.8" r="4.2"/><circle cx="1720.4" cy="675.6" r="4.2"/><circle cx="1728.3" cy="652.8" r="4.2"/><circle cx="1701.9" cy="664.1" r="4.2"/><circle cx="1663.4" cy="643.5" r="4.2"/><circle cx="1700.6" cy="646.7" r="4.2"/><circle cx="1729.6" cy="652.1" r="4.2"/><circle cx="1672.2" cy="649.6" r="4.2"/><circle cx="1684.3" cy="651.1" r="4.2"/><circle cx="1710.9" cy="661.5" r="4.2"/><circle cx="1691.5" cy="669.0" r="4.2"/><circle cx="1682.5" cy="680.1" r="4.2"/><circle cx="1751.6" cy="672.6" r="4.2"/><circle cx="1702.9" cy="663.5" r="4.2"/><circle cx="1716.5" cy="644.2" r="4.2"/><circle cx="1701.5" cy="664.1" r="4.2"/><circle cx="1679.7" cy="645.9" r="4.2"/><circle cx="1736.8" cy="657.4" r="4.2"/><circle cx="1710.8" cy="680.7" r="4.2"/><circle cx="1719.2" cy="654.2" r="4.2"/><circle cx="1753.5" cy="657.6" r="4.2"/><circle cx="1664.8" cy="670.8" r="4.2"/><circle cx="1672.3" cy="654.8" r="4.2"/><circle cx="1740.3" cy="670.2" r="4.2"/><circle cx="1664.4" cy="661.0" r="4.2"/><circle cx="1700.8" cy="662.4" r="4.2"/><circle cx="1682.2" cy="666.7" r="4.2"/><circle cx="1669.8" cy="653.9" r="4.2"/><circle cx="1697.3" cy="681.3" r="4.2"/><circle cx="1670.0" cy="673.7" r="4.2"/><circle cx="1680.7" cy="666.0" r="4.2"/><circle cx="1699.0" cy="661.5" r="4.2"/><circle cx="1732.3" cy="658.6" r="4.2"/><circle cx="1674.2" cy="647.1" r="4.2"/><circle cx="1670.4" cy="677.7" r="4.2"/><circle cx="1722.0" cy="682.3" r="4.2"/><circle cx="1726.7" cy="643.0" r="4.2"/><circle cx="1723.6" cy="674.6" r="4.2"/><circle cx="1729.6" cy="662.9" r="4.2"/><circle cx="1695.9" cy="661.2" r="4.2"/><circle cx="1736.5" cy="653.3" r="4.2"/><circle cx="1711.4" cy="662.1" r="4.2"/><circle cx="1750.8" cy="675.8" r="4.2"/><circle cx="1748.7" cy="677.1" r="4.2"/><circle cx="1690.3" cy="651.7" r="4.2"/><circle cx="1708.0" cy="652.9" r="4.2"/><circle cx="1702.3" cy="670.5" r="4.2"/><circle cx="1747.5" cy="666.6" r="4.2"/><circle cx="1738.2" cy="646.0" r="4.2"/><circle cx="1695.8" cy="683.9" r="4.2"/><circle cx="1676.5" cy="659.5" r="4.2"/><circle cx="1669.1" cy="645.6" r="4.2"/><circle cx="1745.4" cy="683.5" r="4.2"/><circle cx="1722.6" cy="647.4" r="4.2"/><circle cx="1690.3" cy="651.7" r="4.2"/><circle cx="1724.7" cy="670.6" r="4.2"/><circle cx="1703.4" cy="664.0" r="4.2"/><circle cx="1673.3" cy="664.7" r="4.2"/><circle cx="1750.4" cy="673.7" r="4.2"/><circle cx="1671.8" cy="663.7" r="4.2"/><circle cx="1728.8" cy="652.8" r="4.2"/><circle cx="1745.3" cy="661.4" r="4.2"/><circle cx="1727.7" cy="659.0" r="4.2"/><circle cx="1754.6" cy="674.9" r="4.2"/><circle cx="1715.8" cy="648.1" r="4.2"/><circle cx="1703.6" cy="643.2" r="4.2"/><circle cx="1717.8" cy="679.0" r="4.2"/><circle cx="1679.6" cy="663.4" r="4.2"/><circle cx="1707.4" cy="659.0" r="4.2"/><circle cx="1728.4" cy="681.3" r="4.2"/><circle cx="1727.9" cy="661.8" r="4.2"/><circle cx="1751.5" cy="655.9" r="4.2"/><circle cx="1731.6" cy="669.7" r="4.2"/><circle cx="1733.1" cy="677.8" r="4.2"/><circle cx="1683.7" cy="668.1" r="4.2"/><circle cx="1700.1" cy="670.0" r="4.2"/><circle cx="1752.9" cy="668.7" r="4.2"/><circle cx="1664.1" cy="661.5" r="4.2"/><circle cx="1728.5" cy="679.1" r="4.2"/><circle cx="1722.8" cy="676.3" r="4.2"/><circle cx="1664.6" cy="681.6" r="4.2"/><circle cx="1730.1" cy="667.5" r="4.2"/><circle cx="1746.3" cy="679.2" r="4.2"/><circle cx="1672.2" cy="676.3" r="4.2"/><circle cx="1733.6" cy="650.4" r="4.2"/><circle cx="1731.5" cy="666.6" r="4.2"/><circle cx="1680.6" cy="675.8" r="4.2"/><circle cx="1675.7" cy="667.7" r="4.2"/><circle cx="1703.0" cy="652.7" r="4.2"/><circle cx="1715.1" cy="661.6" r="4.2"/><circle cx="1681.9" cy="682.6" r="4.2"/><circle cx="1669.7" cy="642.1" r="4.2"/><circle cx="1707.7" cy="677.2" r="4.2"/><circle cx="1723.6" cy="673.7" r="4.2"/><circle cx="1707.6" cy="670.3" r="4.2"/><circle cx="1693.8" cy="653.2" r="4.2"/><circle cx="1709.3" cy="643.2" r="4.2"/><circle cx="1670.3" cy="673.7" r="4.2"/><circle cx="1679.0" cy="673.5" r="4.2"/><circle cx="1735.2" cy="659.0" r="4.2"/><circle cx="1725.1" cy="675.1" r="4.2"/><circle cx="1742.5" cy="647.7" r="4.2"/><circle cx="1678.0" cy="658.0" r="4.2"/><circle cx="1705.7" cy="654.4" r="4.2"/><circle cx="1664.0" cy="665.4" r="4.2"/><circle cx="1752.0" cy="657.4" r="4.2"/><circle cx="1712.5" cy="658.1" r="4.2"/><circle cx="1703.7" cy="678.6" r="4.2"/><circle cx="1691.4" cy="669.3" r="4.2"/><circle cx="1707.5" cy="664.6" r="4.2"/><circle cx="1747.2" cy="645.2" r="4.2"/><circle cx="1738.8" cy="654.8" r="4.2"/><circle cx="1722.5" cy="675.4" r="4.2"/><circle cx="1723.1" cy="658.5" r="4.2"/><circle cx="1740.3" cy="645.9" r="4.2"/><circle cx="1721.3" cy="658.4" r="4.2"/><circle cx="1711.8" cy="677.7" r="4.2"/><circle cx="1736.4" cy="668.4" r="4.2"/><circle cx="1691.3" cy="651.8" r="4.2"/><circle cx="1705.1" cy="651.7" r="4.2"/><circle cx="1688.5" cy="682.2" r="4.2"/><circle cx="1673.3" cy="676.4" r="4.2"/><circle cx="1697.9" cy="657.3" r="4.2"/><circle cx="1692.3" cy="645.3" r="4.2"/><circle cx="1705.1" cy="649.0" r="4.2"/><circle cx="1703.7" cy="654.3" r="4.2"/><circle cx="1745.3" cy="680.7" r="4.2"/><circle cx="1703.7" cy="668.9" r="4.2"/><circle cx="1748.5" cy="655.7" r="4.2"/><circle cx="1672.2" cy="652.0" r="4.2"/><circle cx="1680.4" cy="670.5" r="4.2"/><circle cx="1697.4" cy="657.0" r="4.2"/><circle cx="1736.1" cy="651.8" r="4.2"/><circle cx="1737.4" cy="668.6" r="4.2"/><circle cx="1699.8" cy="676.6" r="4.2"/><circle cx="1694.5" cy="678.9" r="4.2"/><circle cx="1748.2" cy="663.1" r="4.2"/><circle cx="1726.5" cy="681.8" r="4.2"/><circle cx="1731.3" cy="673.5" r="4.2"/><circle cx="1734.9" cy="640.7" r="4.2"/><circle cx="1728.7" cy="641.6" r="4.2"/><circle cx="1703.7" cy="634.4" r="4.2"/><circle cx="1724.2" cy="629.3" r="4.2"/><circle cx="1709.3" cy="625.5" r="4.2"/><circle cx="1739.7" cy="629.1" r="4.2"/><circle cx="1713.7" cy="639.9" r="4.2"/><circle cx="1698.1" cy="641.2" r="4.2"/><circle cx="1694.9" cy="622.6" r="4.2"/><circle cx="1706.9" cy="629.2" r="4.2"/><circle cx="1737.6" cy="639.7" r="4.2"/><circle cx="1729.1" cy="630.7" r="4.2"/><circle cx="1717.3" cy="626.7" r="4.2"/><circle cx="1733.0" cy="629.8" r="4.2"/><circle cx="1703.4" cy="634.8" r="4.2"/><circle cx="1696.1" cy="628.3" r="4.2"/><circle cx="1738.0" cy="623.9" r="4.2"/><circle cx="1695.7" cy="626.1" r="4.2"/><circle cx="1701.6" cy="630.4" r="4.2"/><circle cx="1701.5" cy="628.9" r="4.2"/><circle cx="1701.3" cy="626.8" r="4.2"/><circle cx="1721.0" cy="628.7" r="4.2"/><circle cx="1708.1" cy="637.4" r="4.2"/><circle cx="1691.3" cy="624.9" r="4.2"/><circle cx="1733.9" cy="630.6" r="4.2"/><circle cx="1730.1" cy="624.7" r="4.2"/><circle cx="1716.2" cy="638.9" r="4.2"/><circle cx="1706.3" cy="637.4" r="4.2"/><circle cx="1721.0" cy="629.9" r="4.2"/><circle cx="1741.9" cy="629.8" r="4.2"/><circle cx="1713.6" cy="634.4" r="4.2"/><circle cx="1705.1" cy="638.8" r="4.2"/><circle cx="1720.3" cy="633.8" r="4.2"/><circle cx="1717.1" cy="641.7" r="4.2"/><circle cx="1741.4" cy="638.8" r="4.2"/><circle cx="1712.5" cy="630.2" r="4.2"/><circle cx="1716.3" cy="622.9" r="4.2"/><circle cx="1693.8" cy="641.9" r="4.2"/><circle cx="1694.9" cy="640.7" r="4.2"/><circle cx="1724.7" cy="640.3" r="4.2"/><circle cx="1692.2" cy="628.1" r="4.2"/><circle cx="1731.1" cy="622.2" r="4.2"/><circle cx="1693.7" cy="629.0" r="4.2"/><circle cx="1697.3" cy="624.9" r="4.2"/><circle cx="1724.2" cy="623.8" r="4.2"/><circle cx="1740.5" cy="635.0" r="4.2"/><circle cx="1690.7" cy="640.0" r="4.2"/><circle cx="1701.0" cy="631.6" r="4.2"/><circle cx="1718.2" cy="624.8" r="4.2"/><circle cx="1715.1" cy="623.2" r="4.2"/><circle cx="1675.6" cy="638.9" r="4.2"/><circle cx="1686.8" cy="633.3" r="4.2"/><circle cx="1684.3" cy="638.3" r="4.2"/><circle cx="1674.5" cy="632.9" r="4.2"/><circle cx="1674.4" cy="627.6" r="4.2"/><circle cx="1673.9" cy="629.0" r="4.2"/></g>
<g fill="#ff0000"><circle cx="1908.7" cy="320.5" r="4.2"/><circle cx="1921.0" cy="348.5" r="4.2"/><circle cx="1983.4" cy="372.3" r="4.2"/><circle cx="1933.7" cy="446.6" r="4.2"/><circle cx="1972.3" cy="467.2" r="4.2"/><circle cx="1899.3" cy="486.7" r="4.2"/><circle cx="1940.3" cy="499.1" r="4.2"/><circle cx="1956.5" cy="510.5" r="4.2"/><circle cx="1956.3" cy="525.9" r="4.2"/><circle cx="1962.3" cy="524.9" r="4.2"/><circle cx="1978.0" cy="534.7" r="4.2"/><circle cx="1960.8" cy="541.0" r="4.2"/><circle cx="1955.5" cy="545.1" r="4.2"/><circle cx="1952.1" cy="555.7" r="4.2"/><circle cx="1913.5" cy="569.9" r="4.2"/><circle cx="1912.5" cy="576.0" r="4.2"/><circle cx="1930.5" cy="568.8" r="4.2"/><circle cx="1945.9" cy="569.6" r="4.2"/><circle cx="1900.1" cy="584.7" r="4.2"/><circle cx="1936.2" cy="582.1" r="4.2"/><circle cx="1940.0" cy="585.1" r="4.2"/><circle cx="1954.0" cy="580.9" r="4.2"/><circle cx="1967.6" cy="584.3" r="4.2"/><circle cx="1971.0" cy="582.8" r="4.2"/><circle cx="1962.0" cy="589.8" r="4.2"/><circle cx="1923.0" cy="591.5" r="4.2"/><circle cx="1916.8" cy="595.9" r="4.2"/><circle cx="1925.2" cy="598.3" r="4.2"/><circle cx="1956.9" cy="600.1" r="4.2"/><circle cx="1904.0" cy="603.3" r="4.2"/><circle cx="1898.7" cy="614.2" r="4.2"/><circle cx="1909.0" cy="613.5" r="4.2"/><circle cx="1912.4" cy="614.6" r="4.2"/><circle cx="1932.8" cy="612.0" r="4.2"/><circle cx="1936.6" cy="612.3" r="4.2"/><circle cx="1950.6" cy="615.0" r="4.2"/><circle cx="1967.2" cy="614.2" r="4.2"/><circle cx="1977.1" cy="611.6" r="4.2"/><circle cx="1898.4" cy="613.8" r="4.2"/><circle cx="1898.4" cy="617.8" r="4.2"/><circle cx="1908.7" cy="613.8" r="4.2"/><circle cx="1913.1" cy="616.3" r="4.2"/><circle cx="1910.0" cy="621.9" r="4.2"/><circle cx="1918.1" cy="621.3" r="4.2"/><circle cx="1919.1" cy="625.1" r="4.2"/><circle cx="1931.9" cy="612.2" r="4.2"/><circle cx="1933.8" cy="620.0" r="4.2"/><circle cx="1940.7" cy="623.2" r="4.2"/><circle cx="1950.7" cy="616.9" r="4.2"/><circle cx="1947.9" cy="625.7" r="4.2"/><circle cx="1967.0" cy="615.7" r="4.2"/><circle cx="1977.0" cy="612.2" r="4.2"/><circle cx="1982.0" cy="620.0" r="4.2"/><circle cx="1902.1" cy="626.3" r="4.2"/><circle cx="1966.0" cy="631.3" r="4.2"/><circle cx="1981.1" cy="631.3" r="4.2"/><circle cx="1932.8" cy="632.6" r="4.2"/><circle cx="1892.7" cy="635.7" r="4.2"/><circle cx="1903.7" cy="633.8" r="4.2"/><circle cx="1899.3" cy="636.3" r="4.2"/><circle cx="1916.2" cy="637.9" r="4.2"/><circle cx="1923.1" cy="635.1" r="4.2"/><circle cx="1927.5" cy="639.1" r="4.2"/><circle cx="1938.2" cy="641.3" r="4.2"/><circle cx="1950.7" cy="635.1" r="4.2"/><circle cx="1954.5" cy="638.8" r="4.2"/><circle cx="1981.7" cy="639.8" r="4.2"/><circle cx="1894.9" cy="642.6" r="4.2"/><circle cx="1918.1" cy="642.6" r="4.2"/><circle cx="1926.9" cy="643.8" r="4.2"/><circle cx="1906.2" cy="645.7" r="4.2"/><circle cx="1962.0" cy="643.2" r="4.2"/><circle cx="1967.6" cy="643.8" r="4.2"/><circle cx="1953.8" cy="646.7" r="4.2"/><circle cx="1978.3" cy="645.7" r="4.2"/><circle cx="1894.3" cy="647.6" r="4.2"/><circle cx="1920.0" cy="649.5" r="4.2"/><circle cx="1935.0" cy="650.1" r="4.2"/><circle cx="1941.9" cy="649.5" r="4.2"/><circle cx="1974.5" cy="648.9" r="4.2"/><circle cx="1959.5" cy="654.5" r="4.2"/><circle cx="1925.6" cy="655.1" r="4.2"/><circle cx="1899.3" cy="658.9" r="4.2"/><circle cx="1909.3" cy="660.1" r="4.2"/><circle cx="1918.7" cy="660.1" r="4.2"/><circle cx="1935.0" cy="659.5" r="4.2"/><circle cx="1943.8" cy="661.4" r="4.2"/><circle cx="1952.6" cy="659.5" r="4.2"/><circle cx="1972.0" cy="660.8" r="4.2"/><circle cx="1983.3" cy="659.5" r="4.2"/><circle cx="1892.4" cy="664.5" r="4.2"/><circle cx="1916.9" cy="665.8" r="4.2"/><circle cx="1935.7" cy="664.5" r="4.2"/><circle cx="1950.7" cy="665.8" r="4.2"/><circle cx="1960.7" cy="664.5" r="4.2"/><circle cx="1975.8" cy="663.9" r="4.2"/><circle cx="1896.8" cy="671.4" r="4.2"/><circle cx="1907.5" cy="672.7" r="4.2"/><circle cx="1916.9" cy="673.9" r="4.2"/><circle cx="1940.7" cy="671.4" r="4.2"/><circle cx="1954.5" cy="673.9" r="4.2"/><circle cx="1967.0" cy="670.2" r="4.2"/><circle cx="1979.5" cy="670.8" r="4.2"/><circle cx="1894.9" cy="677.1" r="4.2"/><circle cx="1910.6" cy="678.3" r="4.2"/><circle cx="1926.9" cy="677.7" r="4.2"/><circle cx="1940.7" cy="678.9" r="4.2"/><circle cx="1948.8" cy="680.2" r="4.2"/><circle cx="1964.5" cy="678.9" r="4.2"/><circle cx="1974.5" cy="678.9" r="4.2"/><circle cx="1981.4" cy="677.7" r="4.2"/><circle cx="1892.4" cy="682.1" r="4.2"/><circle cx="1912.5" cy="684.6" r="4.2"/><circle cx="1922.5" cy="683.3" r="4.2"/><circle cx="1932.5" cy="682.1" r="4.2"/><circle cx="1967.0" cy="685.8" r="4.2"/><circle cx="1980.8" cy="685.2" r="4.2"/><circle cx="1892.4" cy="689.0" r="4.2"/><circle cx="1903.7" cy="688.6" r="4.2"/><circle cx="1917.5" cy="692.1" r="4.2"/><circle cx="1922.5" cy="690.8" r="4.2"/><circle cx="1935.7" cy="691.5" r="4.2"/><circle cx="1950.1" cy="688.3" r="4.2"/><circle cx="1956.3" cy="687.7" r="4.2"/><circle cx="1952.0" cy="692.7" r="4.2"/><circle cx="1900.0" cy="652.0" r="4.2"/><circle cx="1912.0" cy="652.0" r="4.2"/><circle cx="1945.0" cy="655.0" r="4.2"/><circle cx="1962.0" cy="675.0" r="4.2"/><circle cx="1930.0" cy="670.0" r="4.2"/><circle cx="1900.0" cy="668.0" r="4.2"/><circle cx="1957.0" cy="683.0" r="4.2"/><circle cx="1928.0" cy="688.0" r="4.2"/><circle cx="1968.0" cy="652.0" r="4.2"/><circle cx="1944.0" cy="688.0" r="4.2"/><circle cx="1978.3" cy="640.1" r="4.2"/><circle cx="1895.1" cy="689.9" r="4.2"/><circle cx="1909.4" cy="639.0" r="4.2"/><circle cx="1951.0" cy="652.0" r="4.2"/><circle cx="1972.2" cy="645.4" r="4.2"/><circle cx="1978.4" cy="650.5" r="4.2"/><circle cx="1946.5" cy="686.1" r="4.2"/><circle cx="1954.0" cy="685.6" r="4.2"/><circle cx="1956.0" cy="634.8" r="4.2"/><circle cx="1971.4" cy="666.2" r="4.2"/><circle cx="1920.7" cy="643.0" r="4.2"/><circle cx="1968.6" cy="665.8" r="4.2"/><circle cx="1976.5" cy="676.9" r="4.2"/><circle cx="1978.5" cy="664.8" r="4.2"/><circle cx="1955.2" cy="667.5" r="4.2"/><circle cx="1916.0" cy="687.5" r="4.2"/><circle cx="1920.8" cy="677.3" r="4.2"/><circle cx="1978.0" cy="669.8" r="4.2"/><circle cx="1905.7" cy="679.9" r="4.2"/><circle cx="1952.4" cy="642.7" r="4.2"/><circle cx="1897.4" cy="662.8" r="4.2"/><circle cx="1895.9" cy="685.7" r="4.2"/><circle cx="1938.1" cy="662.0" r="4.2"/><circle cx="1929.4" cy="670.3" r="4.2"/><circle cx="1974.6" cy="649.8" r="4.2"/><circle cx="1926.3" cy="665.8" r="4.2"/><circle cx="1919.5" cy="666.5" r="4.2"/><circle cx="1941.3" cy="657.1" r="4.2"/><circle cx="1952.9" cy="662.6" r="4.2"/><circle cx="1900.8" cy="689.8" r="4.2"/><circle cx="1924.7" cy="657.0" r="4.2"/><circle cx="1928.8" cy="685.9" r="4.2"/><circle cx="1977.7" cy="661.7" r="4.2"/><circle cx="1928.7" cy="637.6" r="4.2"/><circle cx="1972.7" cy="641.9" r="4.2"/><circle cx="1941.6" cy="652.3" r="4.2"/><circle cx="1922.2" cy="652.7" r="4.2"/><circle cx="1910.0" cy="634.1" r="4.2"/><circle cx="1940.7" cy="678.2" r="4.2"/><circle cx="1950.6" cy="643.7" r="4.2"/></g>
<path d="M1480.4 119.1V103.7H1937.8V119.1" stroke="#000" stroke-width="1.6" fill="none"/>
<text transform="translate(1709.1 92.3) scale(1 0.84)" text-anchor="middle" style="font-family:'Liberation Sans',Arial,Helvetica,sans-serif;font-size:29px" fill="#000">****</text>
<path d="M1251.8 179.6V164.2H1709.0V179.6" stroke="#000" stroke-width="1.6" fill="none"/>
<text transform="translate(1480.4 152.8) scale(1 0.84)" text-anchor="middle" style="font-family:'Liberation Sans',Arial,Helvetica,sans-serif;font-size:29px" fill="#000">**</text>
<g stroke="#000" stroke-width="3.1" fill="none">
<line x1="41.8" y1="881.2" x2="41.8" y2="1559.5"/>
<line x1="40.2" y1="1558.0" x2="1001.5" y2="1558.0"/>
<line x1="33.8" y1="1527.4" x2="41.8" y2="1527.4"/>
<line x1="33.8" y1="1381.0" x2="41.8" y2="1381.0"/>
<line x1="33.8" y1="1234.7" x2="41.8" y2="1234.7"/>
<line x1="33.8" y1="1088.3" x2="41.8" y2="1088.3"/>
<line x1="33.8" y1="941.9" x2="41.8" y2="941.9"/>
<line x1="178.9" y1="1558.0" x2="178.9" y2="1566.0"/>
<line x1="407.5" y1="1558.0" x2="407.5" y2="1566.0"/>
<line x1="636.1" y1="1558.0" x2="636.1" y2="1566.0"/>
<line x1="864.7" y1="1558.0" x2="864.7" y2="1566.0"/>
</g>
<g style="font-family:'Liberation Sans',Arial,Helvetica,sans-serif;font-size:16px" fill="#000">
<text x="27.0" y="1533.2" text-anchor="end">0</text>
<text x="27.0" y="1386.8" text-anchor="end">25</text>
<text x="27.0" y="1240.5" text-anchor="end">50</text>
<text x="27.0" y="1094.1" text-anchor="end">75</text>
<text x="27.0" y="947.7" text-anchor="end">100</text>
<text x="178.9" y="1583.8" text-anchor="middle">N409S+PD</text>
<text x="407.5" y="1583.8" text-anchor="middle">N409S+NMC</text>
<text x="636.1" y="1583.8" text-anchor="middle">sPD</text>
<text x="864.7" y="1583.8" text-anchor="middle">HC</text>
</g>
<text x="521.3" y="856.7" text-anchor="middle" style="font-family:'Liberation Sans',Arial,Helvetica,sans-serif;font-size:38.2px" fill="#000">2'2 di−22:6−BMP</text>
<text x="979.3" y="862.4" style="font-family:'Liberation Sans',Arial,Helvetica,sans-serif;font-size:32px" fill="#000">c</text>
<g stroke="#0000ff" fill="none" stroke-width="2.7">
<line x1="178.9" y1="1344.2" x2="178.9" y2="1429.7"/>
<line x1="178.9" y1="1488.3" x2="178.9" y2="1513.9"/>
<rect x="98.9" y="1429.7" width="160.0" height="58.6"/>
<line x1="98.9" y1="1470.9" x2="258.9" y2="1470.9" stroke-width="5.4"/>
</g>
<g stroke="#00ff00" fill="none" stroke-width="2.7">
<line x1="407.5" y1="1358.6" x2="407.5" y2="1437.6"/>
<line x1="407.5" y1="1493.4" x2="407.5" y2="1522.3"/>
<rect x="327.5" y="1437.6" width="160.0" height="55.8"/>
<line x1="327.5" y1="1471.2" x2="487.5" y2="1471.2" stroke-width="5.4"/>
</g>
<g stroke="#00ffff" fill="none" stroke-width="2.7">
<line x1="636.1" y1="1396.9" x2="636.1" y2="1460.2"/>
<line x1="636.1" y1="1504.4" x2="636.1" y2="1522.0"/>
<rect x="556.1" y="1460.2" width="160.0" height="44.2"/>
<line x1="556.1" y1="1487.4" x2="716.1" y2="1487.4" stroke-width="5.4"/>
</g>
<g stroke="#ff0000" fill="none" stroke-width="2.7">
<line x1="864.7" y1="1415.4" x2="864.7" y2="1467.9"/>
<line x1="864.7" y1="1504.7" x2="864.7" y2="1524.0"/>
<rect x="784.7" y="1467.9" width="160.0" height="36.8"/>
<line x1="784.7" y1="1490.1" x2="944.7" y2="1490.1" stroke-width="5.4"/>
</g>
<g fill="#0000ff"><circle cx="168.1" cy="1138.4" r="4.2"/><circle cx="165.3" cy="1184.1" r="4.2"/><circle cx="173.1" cy="1222.8" r="4.2"/><circle cx="175.5" cy="1272.5" r="4.2"/><circle cx="224.1" cy="1315.4" r="4.2"/><circle cx="153.4" cy="1343.9" r="4.2"/><circle cx="140.0" cy="1355.3" r="4.2"/><circle cx="138.8" cy="1358.4" r="4.2"/><circle cx="164.2" cy="1372.6" r="4.2"/><circle cx="137.2" cy="1396.8" r="4.2"/><circle cx="165.0" cy="1393.6" r="4.2"/><circle cx="219.3" cy="1400.6" r="4.2"/><circle cx="158.1" cy="1407.2" r="4.2"/><circle cx="150.1" cy="1409.9" r="4.2"/><circle cx="137.7" cy="1413.2" r="4.2"/><circle cx="140.9" cy="1417.5" r="4.2"/><circle cx="189.5" cy="1421.5" r="4.2"/><circle cx="195.2" cy="1421.0" r="4.2"/><circle cx="193.7" cy="1425.6" r="4.2"/><circle cx="178.8" cy="1431.1" r="4.2"/><circle cx="142.0" cy="1441.2" r="4.2"/><circle cx="151.1" cy="1445.7" r="4.2"/><circle cx="165.0" cy="1442.9" r="4.2"/><circle cx="148.8" cy="1453.6" r="4.2"/><circle cx="159.9" cy="1453.8" r="4.2"/><circle cx="187.9" cy="1457.0" r="4.2"/><circle cx="206.0" cy="1446.2" r="4.2"/><circle cx="210.4" cy="1449.8" r="4.2"/><circle cx="212.9" cy="1454.8" r="4.2"/><circle cx="211.9" cy="1460.9" r="4.2"/><circle cx="149.8" cy="1460.4" r="4.2"/><circle cx="151.3" cy="1465.9" r="4.2"/><circle cx="178.6" cy="1468.0" r="4.2"/><circle cx="210.9" cy="1466.9" r="4.2"/><circle cx="214.9" cy="1469.0" r="4.2"/><circle cx="152.9" cy="1473.0" r="4.2"/><circle cx="161.4" cy="1474.5" r="4.2"/><circle cx="169.0" cy="1475.0" r="4.2"/><circle cx="203.3" cy="1476.0" r="4.2"/><circle cx="146.8" cy="1479.6" r="4.2"/><circle cx="152.4" cy="1482.1" r="4.2"/><circle cx="154.9" cy="1486.1" r="4.2"/><circle cx="145.3" cy="1487.6" r="4.2"/><circle cx="174.3" cy="1482.1" r="4.2"/><circle cx="177.1" cy="1489.1" r="4.2"/><circle cx="199.3" cy="1480.6" r="4.2"/><circle cx="202.8" cy="1487.6" r="4.2"/><circle cx="208.4" cy="1487.6" r="4.2"/><circle cx="213.9" cy="1480.6" r="4.2"/><circle cx="221.0" cy="1479.6" r="4.2"/><circle cx="225.0" cy="1482.1" r="4.2"/><circle cx="221.0" cy="1487.1" r="4.2"/><circle cx="164.0" cy="1492.7" r="4.2"/><circle cx="160.9" cy="1496.2" r="4.2"/><circle cx="167.5" cy="1495.7" r="4.2"/><circle cx="220.5" cy="1496.2" r="4.2"/><circle cx="145.3" cy="1500.2" r="4.2"/><circle cx="152.4" cy="1501.8" r="4.2"/><circle cx="138.2" cy="1506.8" r="4.2"/><circle cx="144.3" cy="1505.8" r="4.2"/><circle cx="150.8" cy="1512.4" r="4.2"/><circle cx="200.3" cy="1501.8" r="4.2"/><circle cx="204.8" cy="1502.8" r="4.2"/><circle cx="203.8" cy="1508.3" r="4.2"/><circle cx="188.2" cy="1508.8" r="4.2"/><circle cx="194.2" cy="1513.9" r="4.2"/><circle cx="215.9" cy="1510.3" r="4.2"/></g>
<g fill="#00ff00"><circle cx="414.8" cy="1017.1" r="4.2"/><circle cx="423.9" cy="1272.0" r="4.2"/><circle cx="438.4" cy="1295.7" r="4.2"/><circle cx="420.9" cy="1302.0" r="4.2"/><circle cx="445.0" cy="1317.9" r="4.2"/><circle cx="373.7" cy="1332.1" r="4.2"/><circle cx="371.6" cy="1334.5" r="4.2"/><circle cx="441.7" cy="1346.3" r="4.2"/><circle cx="449.7" cy="1349.9" r="4.2"/><circle cx="393.9" cy="1351.0" r="4.2"/><circle cx="414.0" cy="1358.1" r="4.2"/><circle cx="415.8" cy="1364.3" r="4.2"/><circle cx="405.9" cy="1367.6" r="4.2"/><circle cx="442.1" cy="1360.3" r="4.2"/><circle cx="438.7" cy="1367.4" r="4.2"/><circle cx="442.8" cy="1367.6" r="4.2"/><circle cx="363.1" cy="1376.3" r="4.2"/><circle cx="431.7" cy="1380.4" r="4.2"/><circle cx="413.5" cy="1390.3" r="4.2"/><circle cx="421.5" cy="1388.9" r="4.2"/><circle cx="431.7" cy="1390.5" r="4.2"/><circle cx="388.4" cy="1393.3" r="4.2"/><circle cx="394.1" cy="1393.8" r="4.2"/><circle cx="416.8" cy="1396.9" r="4.2"/><circle cx="361.9" cy="1396.4" r="4.2"/><circle cx="394.6" cy="1404.0" r="4.2"/><circle cx="404.5" cy="1404.5" r="4.2"/><circle cx="414.0" cy="1403.5" r="4.2"/><circle cx="430.5" cy="1403.1" r="4.2"/><circle cx="362.2" cy="1408.6" r="4.2"/><circle cx="399.2" cy="1407.8" r="4.2"/><circle cx="382.6" cy="1415.9" r="4.2"/><circle cx="417.1" cy="1414.4" r="4.2"/><circle cx="452.5" cy="1416.7" r="4.2"/><circle cx="442.4" cy="1425.4" r="4.2"/><circle cx="369.0" cy="1426.8" r="4.2"/><circle cx="397.1" cy="1428.2" r="4.2"/><circle cx="363.2" cy="1436.6" r="4.2"/><circle cx="375.0" cy="1439.7" r="4.2"/><circle cx="385.6" cy="1441.4" r="4.2"/><circle cx="387.3" cy="1446.1" r="4.2"/><circle cx="410.3" cy="1435.9" r="4.2"/><circle cx="420.1" cy="1434.6" r="4.2"/><circle cx="432.4" cy="1432.9" r="4.2"/><circle cx="436.7" cy="1434.2" r="4.2"/><circle cx="449.0" cy="1438.9" r="4.2"/><circle cx="429.9" cy="1443.1" r="4.2"/><circle cx="440.1" cy="1444.0" r="4.2"/><circle cx="418.0" cy="1445.3" r="4.2"/><circle cx="421.4" cy="1447.0" r="4.2"/><circle cx="399.6" cy="1448.7" r="4.2"/><circle cx="406.0" cy="1451.6" r="4.2"/><circle cx="426.0" cy="1453.3" r="4.2"/><circle cx="432.4" cy="1453.3" r="4.2"/><circle cx="450.3" cy="1453.3" r="4.2"/><circle cx="363.9" cy="1453.8" r="4.2"/><circle cx="363.0" cy="1455.9" r="4.2"/><circle cx="376.6" cy="1458.0" r="4.2"/><circle cx="383.9" cy="1460.2" r="4.2"/><circle cx="388.1" cy="1459.7" r="4.2"/><circle cx="402.6" cy="1459.7" r="4.2"/><circle cx="411.1" cy="1458.0" r="4.2"/><circle cx="416.3" cy="1463.1" r="4.2"/><circle cx="423.5" cy="1463.1" r="4.2"/><circle cx="428.6" cy="1461.0" r="4.2"/><circle cx="366.9" cy="1463.6" r="4.2"/><circle cx="395.0" cy="1466.1" r="4.2"/><circle cx="380.5" cy="1465.7" r="4.2"/><circle cx="448.6" cy="1464.4" r="4.2"/><circle cx="372.4" cy="1472.1" r="4.2"/><circle cx="380.5" cy="1475.1" r="4.2"/><circle cx="395.8" cy="1471.7" r="4.2"/><circle cx="440.1" cy="1470.0" r="4.2"/><circle cx="449.0" cy="1473.4" r="4.2"/><circle cx="437.6" cy="1475.9" r="4.2"/><circle cx="390.3" cy="1478.9" r="4.2"/><circle cx="401.8" cy="1479.3" r="4.2"/><circle cx="417.1" cy="1476.8" r="4.2"/><circle cx="427.3" cy="1479.3" r="4.2"/><circle cx="367.3" cy="1482.7" r="4.2"/><circle cx="374.5" cy="1483.6" r="4.2"/><circle cx="380.9" cy="1484.4" r="4.2"/><circle cx="388.1" cy="1485.3" r="4.2"/><circle cx="397.5" cy="1482.7" r="4.2"/><circle cx="408.6" cy="1484.4" r="4.2"/><circle cx="421.4" cy="1481.9" r="4.2"/><circle cx="431.6" cy="1487.8" r="4.2"/><circle cx="443.1" cy="1486.6" r="4.2"/><circle cx="452.0" cy="1489.1" r="4.2"/><circle cx="362.6" cy="1493.0" r="4.2"/><circle cx="368.6" cy="1493.0" r="4.2"/><circle cx="377.1" cy="1495.5" r="4.2"/><circle cx="394.5" cy="1496.4" r="4.2"/><circle cx="402.6" cy="1496.4" r="4.2"/><circle cx="410.3" cy="1498.9" r="4.2"/><circle cx="419.7" cy="1493.0" r="4.2"/><circle cx="426.5" cy="1495.5" r="4.2"/><circle cx="445.2" cy="1498.5" r="4.2"/><circle cx="366.9" cy="1503.2" r="4.2"/><circle cx="383.9" cy="1503.2" r="4.2"/><circle cx="395.8" cy="1501.5" r="4.2"/><circle cx="416.3" cy="1501.9" r="4.2"/><circle cx="433.3" cy="1502.3" r="4.2"/><circle cx="447.8" cy="1504.0" r="4.2"/><circle cx="374.1" cy="1507.4" r="4.2"/><circle cx="385.6" cy="1507.4" r="4.2"/><circle cx="366.0" cy="1510.4" r="4.2"/><circle cx="399.6" cy="1510.0" r="4.2"/><circle cx="411.1" cy="1510.0" r="4.2"/><circle cx="415.4" cy="1509.1" r="4.2"/><circle cx="424.8" cy="1509.1" r="4.2"/><circle cx="428.2" cy="1512.5" r="4.2"/><circle cx="440.1" cy="1512.1" r="4.2"/><circle cx="378.8" cy="1513.8" r="4.2"/><circle cx="452.5" cy="1522.3" r="4.2"/><circle cx="372.0" cy="1490.0" r="4.2"/><circle cx="386.0" cy="1492.0" r="4.2"/><circle cx="404.0" cy="1490.0" r="4.2"/><circle cx="414.0" cy="1488.0" r="4.2"/><circle cx="432.0" cy="1495.0" r="4.2"/><circle cx="440.0" cy="1500.0" r="4.2"/><circle cx="372.0" cy="1500.0" r="4.2"/><circle cx="406.0" cy="1503.0" r="4.2"/><circle cx="389.0" cy="1511.0" r="4.2"/><circle cx="420.0" cy="1503.0" r="4.2"/><circle cx="408.0" cy="1471.0" r="4.2"/><circle cx="428.0" cy="1470.0" r="4.2"/><circle cx="384.0" cy="1470.0" r="4.2"/><circle cx="365.0" cy="1486.0" r="4.2"/><circle cx="436.0" cy="1482.0" r="4.2"/><circle cx="365.1" cy="1478.0" r="4.2"/><circle cx="397.8" cy="1498.6" r="4.2"/><circle cx="375.9" cy="1478.0" r="4.2"/><circle cx="383.9" cy="1501.3" r="4.2"/><circle cx="376.7" cy="1500.7" r="4.2"/><circle cx="420.9" cy="1478.9" r="4.2"/><circle cx="410.1" cy="1490.1" r="4.2"/><circle cx="399.5" cy="1509.9" r="4.2"/><circle cx="372.0" cy="1474.7" r="4.2"/><circle cx="444.8" cy="1488.5" r="4.2"/><circle cx="381.1" cy="1485.9" r="4.2"/><circle cx="395.4" cy="1508.4" r="4.2"/><circle cx="382.1" cy="1481.8" r="4.2"/><circle cx="414.3" cy="1493.7" r="4.2"/><circle cx="446.0" cy="1504.2" r="4.2"/><circle cx="394.6" cy="1481.3" r="4.2"/><circle cx="435.9" cy="1509.6" r="4.2"/><circle cx="366.6" cy="1500.5" r="4.2"/><circle cx="438.7" cy="1497.4" r="4.2"/><circle cx="382.8" cy="1502.7" r="4.2"/><circle cx="426.8" cy="1481.0" r="4.2"/><circle cx="419.1" cy="1481.9" r="4.2"/><circle cx="367.6" cy="1486.1" r="4.2"/><circle cx="392.8" cy="1488.3" r="4.2"/><circle cx="419.6" cy="1504.1" r="4.2"/></g>
<g fill="#00ffff"><circle cx="629.0" cy="1180.0" r="4.2"/><circle cx="666.7" cy="1247.0" r="4.2"/><circle cx="626.0" cy="1260.7" r="4.2"/><circle cx="620.2" cy="1269.4" r="4.2"/><circle cx="623.1" cy="1298.3" r="4.2"/><circle cx="614.5" cy="1311.2" r="4.2"/><circle cx="660.1" cy="1318.8" r="4.2"/><circle cx="594.2" cy="1333.0" r="4.2"/><circle cx="614.5" cy="1350.3" r="4.2"/><circle cx="646.4" cy="1351.1" r="4.2"/><circle cx="635.4" cy="1357.4" r="4.2"/><circle cx="662.2" cy="1355.5" r="4.2"/><circle cx="665.6" cy="1355.1" r="4.2"/><circle cx="664.1" cy="1359.3" r="4.2"/><circle cx="590.6" cy="1360.6" r="4.2"/><circle cx="612.2" cy="1365.6" r="4.2"/><circle cx="595.9" cy="1370.4" r="4.2"/><circle cx="592.5" cy="1377.5" r="4.2"/><circle cx="623.1" cy="1379.0" r="4.2"/><circle cx="646.4" cy="1379.5" r="4.2"/><circle cx="658.5" cy="1375.9" r="4.2"/><circle cx="655.1" cy="1381.9" r="4.2"/><circle cx="663.7" cy="1384.2" r="4.2"/><circle cx="676.7" cy="1382.2" r="4.2"/><circle cx="614.8" cy="1385.8" r="4.2"/><circle cx="597.3" cy="1396.5" r="4.2"/><circle cx="601.4" cy="1400.8" r="4.2"/><circle cx="604.1" cy="1405.5" r="4.2"/><circle cx="617.8" cy="1394.5" r="4.2"/><circle cx="616.3" cy="1398.4" r="4.2"/><circle cx="619.6" cy="1405.5" r="4.2"/><circle cx="638.5" cy="1400.3" r="4.2"/><circle cx="656.6" cy="1398.9" r="4.2"/><circle cx="672.4" cy="1402.4" r="4.2"/><circle cx="671.9" cy="1408.7" r="4.2"/><circle cx="614.8" cy="1414.2" r="4.2"/><circle cx="637.2" cy="1414.2" r="4.2"/><circle cx="653.8" cy="1413.9" r="4.2"/><circle cx="661.7" cy="1413.9" r="4.2"/><circle cx="670.4" cy="1413.4" r="4.2"/><circle cx="672.0" cy="1406.6" r="4.2"/><circle cx="672.7" cy="1409.7" r="4.2"/><circle cx="615.0" cy="1415.8" r="4.2"/><circle cx="637.1" cy="1415.3" r="4.2"/><circle cx="642.0" cy="1420.8" r="4.2"/><circle cx="649.1" cy="1422.7" r="4.2"/><circle cx="653.8" cy="1415.3" r="4.2"/><circle cx="661.5" cy="1414.9" r="4.2"/><circle cx="671.2" cy="1413.7" r="4.2"/><circle cx="675.1" cy="1420.0" r="4.2"/><circle cx="606.5" cy="1425.9" r="4.2"/><circle cx="632.1" cy="1429.4" r="4.2"/><circle cx="668.4" cy="1427.5" r="4.2"/><circle cx="665.6" cy="1432.6" r="4.2"/><circle cx="595.8" cy="1431.8" r="4.2"/><circle cx="595.1" cy="1437.7" r="4.2"/><circle cx="609.6" cy="1432.6" r="4.2"/><circle cx="647.5" cy="1433.0" r="4.2"/><circle cx="656.6" cy="1433.8" r="4.2"/><circle cx="679.8" cy="1435.8" r="4.2"/><circle cx="614.8" cy="1440.5" r="4.2"/><circle cx="624.2" cy="1439.7" r="4.2"/><circle cx="631.7" cy="1438.1" r="4.2"/><circle cx="650.3" cy="1440.5" r="4.2"/><circle cx="655.8" cy="1440.9" r="4.2"/><circle cx="596.2" cy="1446.4" r="4.2"/><circle cx="604.1" cy="1444.4" r="4.2"/><circle cx="616.7" cy="1448.8" r="4.2"/><circle cx="627.8" cy="1446.0" r="4.2"/><circle cx="634.1" cy="1444.4" r="4.2"/><circle cx="649.1" cy="1448.0" r="4.2"/><circle cx="656.6" cy="1448.8" r="4.2"/><circle cx="666.4" cy="1451.5" r="4.2"/><circle cx="677.1" cy="1450.0" r="4.2"/><circle cx="597.0" cy="1454.7" r="4.2"/><circle cx="602.2" cy="1452.7" r="4.2"/><circle cx="609.6" cy="1456.3" r="4.2"/><circle cx="619.9" cy="1457.1" r="4.2"/><circle cx="630.1" cy="1451.5" r="4.2"/><circle cx="643.6" cy="1458.6" r="4.2"/><circle cx="649.9" cy="1455.5" r="4.2"/><circle cx="660.1" cy="1458.6" r="4.2"/><circle cx="674.3" cy="1457.1" r="4.2"/><circle cx="596.2" cy="1461.8" r="4.2"/><circle cx="624.6" cy="1464.9" r="4.2"/><circle cx="633.3" cy="1466.1" r="4.2"/><circle cx="647.5" cy="1464.9" r="4.2"/><circle cx="664.8" cy="1467.3" r="4.2"/><circle cx="680.6" cy="1472.4" r="4.2"/><circle cx="590.3" cy="1478.7" r="4.2"/><circle cx="643.6" cy="1475.6" r="4.2"/><circle cx="591.9" cy="1520.5" r="4.2"/><circle cx="621.5" cy="1524.1" r="4.2"/><circle cx="664.8" cy="1522.5" r="4.2"/><circle cx="675.9" cy="1519.4" r="4.2"/><circle cx="654.6" cy="1519.7" r="4.2"/><circle cx="638.0" cy="1520.1" r="4.2"/><circle cx="602.0" cy="1462.0" r="4.2"/><circle cx="612.0" cy="1460.0" r="4.2"/><circle cx="668.0" cy="1462.0" r="4.2"/><circle cx="676.0" cy="1465.0" r="4.2"/><circle cx="612.4" cy="1495.2" r="4.2"/><circle cx="624.8" cy="1498.2" r="4.2"/><circle cx="648.8" cy="1471.3" r="4.2"/><circle cx="591.2" cy="1509.9" r="4.2"/><circle cx="614.4" cy="1479.7" r="4.2"/><circle cx="683.6" cy="1491.5" r="4.2"/><circle cx="668.6" cy="1491.8" r="4.2"/><circle cx="650.1" cy="1475.5" r="4.2"/><circle cx="649.7" cy="1511.4" r="4.2"/><circle cx="639.2" cy="1505.1" r="4.2"/><circle cx="653.1" cy="1471.2" r="4.2"/><circle cx="661.3" cy="1497.6" r="4.2"/><circle cx="618.3" cy="1469.6" r="4.2"/><circle cx="671.4" cy="1491.6" r="4.2"/><circle cx="657.6" cy="1511.9" r="4.2"/><circle cx="657.1" cy="1514.1" r="4.2"/><circle cx="627.1" cy="1508.0" r="4.2"/><circle cx="631.8" cy="1514.8" r="4.2"/><circle cx="672.6" cy="1472.9" r="4.2"/><circle cx="602.8" cy="1478.8" r="4.2"/><circle cx="680.8" cy="1489.8" r="4.2"/><circle cx="648.9" cy="1483.1" r="4.2"/><circle cx="637.7" cy="1487.3" r="4.2"/><circle cx="623.0" cy="1497.3" r="4.2"/><circle cx="644.9" cy="1513.2" r="4.2"/><circle cx="654.1" cy="1514.4" r="4.2"/><circle cx="670.5" cy="1517.5" r="4.2"/><circle cx="653.1" cy="1476.2" r="4.2"/><circle cx="670.9" cy="1516.2" r="4.2"/><circle cx="675.0" cy="1496.5" r="4.2"/><circle cx="657.1" cy="1478.6" r="4.2"/><circle cx="668.2" cy="1496.7" r="4.2"/><circle cx="616.8" cy="1471.2" r="4.2"/><circle cx="670.3" cy="1517.5" r="4.2"/><circle cx="598.3" cy="1508.0" r="4.2"/><circle cx="628.6" cy="1475.5" r="4.2"/><circle cx="617.6" cy="1506.4" r="4.2"/><circle cx="672.0" cy="1470.2" r="4.2"/><circle cx="647.8" cy="1470.2" r="4.2"/><circle cx="657.5" cy="1484.5" r="4.2"/><circle cx="672.8" cy="1517.0" r="4.2"/><circle cx="637.5" cy="1517.9" r="4.2"/><circle cx="619.1" cy="1471.8" r="4.2"/><circle cx="646.4" cy="1469.6" r="4.2"/><circle cx="608.6" cy="1488.4" r="4.2"/><circle cx="647.4" cy="1475.8" r="4.2"/><circle cx="594.0" cy="1511.4" r="4.2"/><circle cx="619.5" cy="1515.9" r="4.2"/><circle cx="674.3" cy="1486.9" r="4.2"/><circle cx="633.3" cy="1494.0" r="4.2"/><circle cx="650.5" cy="1497.8" r="4.2"/><circle cx="642.6" cy="1499.0" r="4.2"/><circle cx="678.4" cy="1493.4" r="4.2"/><circle cx="630.5" cy="1504.0" r="4.2"/><circle cx="612.3" cy="1483.1" r="4.2"/><circle cx="681.9" cy="1494.1" r="4.2"/><circle cx="641.6" cy="1468.6" r="4.2"/><circle cx="629.0" cy="1497.0" r="4.2"/><circle cx="591.9" cy="1498.8" r="4.2"/><circle cx="649.4" cy="1471.0" r="4.2"/><circle cx="649.0" cy="1491.3" r="4.2"/><circle cx="653.9" cy="1485.6" r="4.2"/><circle cx="656.5" cy="1504.9" r="4.2"/><circle cx="592.1" cy="1471.0" r="4.2"/><circle cx="653.5" cy="1516.2" r="4.2"/><circle cx="613.6" cy="1490.8" r="4.2"/><circle cx="645.7" cy="1484.0" r="4.2"/><circle cx="624.2" cy="1483.6" r="4.2"/><circle cx="624.7" cy="1497.8" r="4.2"/><circle cx="618.2" cy="1486.9" r="4.2"/><circle cx="662.6" cy="1469.3" r="4.2"/><circle cx="643.5" cy="1504.8" r="4.2"/><circle cx="619.1" cy="1479.1" r="4.2"/><circle cx="665.6" cy="1479.9" r="4.2"/><circle cx="607.6" cy="1489.8" r="4.2"/><circle cx="655.6" cy="1473.1" r="4.2"/><circle cx="620.3" cy="1484.7" r="4.2"/><circle cx="668.4" cy="1489.9" r="4.2"/><circle cx="670.4" cy="1476.5" r="4.2"/><circle cx="621.7" cy="1500.5" r="4.2"/><circle cx="673.2" cy="1490.6" r="4.2"/><circle cx="611.2" cy="1474.0" r="4.2"/><circle cx="639.8" cy="1477.5" r="4.2"/><circle cx="665.8" cy="1509.9" r="4.2"/><circle cx="607.3" cy="1481.9" r="4.2"/><circle cx="665.9" cy="1500.1" r="4.2"/><circle cx="665.8" cy="1485.3" r="4.2"/><circle cx="602.2" cy="1482.6" r="4.2"/><circle cx="664.6" cy="1481.6" r="4.2"/><circle cx="622.6" cy="1488.8" r="4.2"/><circle cx="629.5" cy="1488.5" r="4.2"/><circle cx="676.5" cy="1475.8" r="4.2"/><circle cx="590.4" cy="1515.2" r="4.2"/><circle cx="672.7" cy="1517.3" r="4.2"/><circle cx="630.8" cy="1515.5" r="4.2"/><circle cx="677.2" cy="1479.1" r="4.2"/><circle cx="660.1" cy="1509.8" r="4.2"/><circle cx="652.3" cy="1494.0" r="4.2"/><circle cx="617.2" cy="1485.1" r="4.2"/><circle cx="611.4" cy="1471.4" r="4.2"/><circle cx="645.3" cy="1482.4" r="4.2"/><circle cx="666.2" cy="1470.3" r="4.2"/><circle cx="674.9" cy="1502.7" r="4.2"/><circle cx="676.8" cy="1512.8" r="4.2"/><circle cx="674.6" cy="1496.8" r="4.2"/><circle cx="591.2" cy="1505.3" r="4.2"/><circle cx="606.2" cy="1483.0" r="4.2"/><circle cx="652.3" cy="1494.2" r="4.2"/><circle cx="628.9" cy="1515.0" r="4.2"/><circle cx="647.5" cy="1485.1" r="4.2"/><circle cx="613.7" cy="1511.1" r="4.2"/><circle cx="634.9" cy="1507.1" r="4.2"/><circle cx="623.1" cy="1477.9" r="4.2"/><circle cx="640.3" cy="1508.8" r="4.2"/><circle cx="606.1" cy="1507.6" r="4.2"/><circle cx="676.6" cy="1508.3" r="4.2"/><circle cx="667.4" cy="1468.4" r="4.2"/><circle cx="649.1" cy="1511.1" r="4.2"/><circle cx="594.7" cy="1481.6" r="4.2"/><circle cx="615.2" cy="1494.4" r="4.2"/><circle cx="629.8" cy="1491.6" r="4.2"/><circle cx="663.0" cy="1468.1" r="4.2"/><circle cx="595.2" cy="1474.3" r="4.2"/><circle cx="601.7" cy="1471.4" r="4.2"/><circle cx="681.6" cy="1510.7" r="4.2"/><circle cx="598.1" cy="1493.1" r="4.2"/><circle cx="619.7" cy="1483.7" r="4.2"/><circle cx="623.0" cy="1500.3" r="4.2"/><circle cx="645.1" cy="1486.0" r="4.2"/><circle cx="608.0" cy="1484.4" r="4.2"/><circle cx="601.6" cy="1495.8" r="4.2"/><circle cx="657.3" cy="1487.0" r="4.2"/><circle cx="597.5" cy="1476.9" r="4.2"/><circle cx="625.1" cy="1498.2" r="4.2"/><circle cx="663.6" cy="1487.0" r="4.2"/><circle cx="665.3" cy="1499.1" r="4.2"/><circle cx="630.6" cy="1486.6" r="4.2"/><circle cx="636.6" cy="1503.1" r="4.2"/><circle cx="629.5" cy="1502.7" r="4.2"/><circle cx="633.3" cy="1480.3" r="4.2"/><circle cx="640.4" cy="1502.8" r="4.2"/><circle cx="596.7" cy="1489.2" r="4.2"/><circle cx="630.0" cy="1512.0" r="4.2"/><circle cx="678.0" cy="1486.7" r="4.2"/><circle cx="674.4" cy="1507.5" r="4.2"/><circle cx="614.6" cy="1491.2" r="4.2"/><circle cx="601.6" cy="1508.7" r="4.2"/><circle cx="652.3" cy="1512.4" r="4.2"/><circle cx="664.5" cy="1501.4" r="4.2"/><circle cx="659.0" cy="1496.2" r="4.2"/><circle cx="599.7" cy="1497.4" r="4.2"/><circle cx="590.5" cy="1475.2" r="4.2"/><circle cx="662.8" cy="1470.2" r="4.2"/><circle cx="598.6" cy="1473.0" r="4.2"/><circle cx="672.8" cy="1477.0" r="4.2"/><circle cx="592.2" cy="1510.1" r="4.2"/><circle cx="601.4" cy="1510.2" r="4.2"/><circle cx="653.3" cy="1509.8" r="4.2"/><circle cx="679.5" cy="1497.0" r="4.2"/><circle cx="665.1" cy="1469.8" r="4.2"/><circle cx="662.1" cy="1493.6" r="4.2"/><circle cx="657.2" cy="1473.3" r="4.2"/><circle cx="660.4" cy="1514.7" r="4.2"/><circle cx="595.7" cy="1484.2" r="4.2"/><circle cx="643.0" cy="1509.4" r="4.2"/><circle cx="612.8" cy="1477.0" r="4.2"/><circle cx="613.5" cy="1498.8" r="4.2"/><circle cx="660.8" cy="1487.7" r="4.2"/><circle cx="624.5" cy="1487.8" r="4.2"/><circle cx="622.9" cy="1488.9" r="4.2"/><circle cx="597.8" cy="1493.0" r="4.2"/><circle cx="681.5" cy="1488.6" r="4.2"/><circle cx="660.3" cy="1476.0" r="4.2"/><circle cx="654.9" cy="1505.8" r="4.2"/><circle cx="653.3" cy="1493.9" r="4.2"/><circle cx="635.5" cy="1500.1" r="4.2"/><circle cx="674.4" cy="1475.5" r="4.2"/><circle cx="599.0" cy="1505.4" r="4.2"/><circle cx="676.2" cy="1493.9" r="4.2"/><circle cx="631.6" cy="1503.9" r="4.2"/><circle cx="607.5" cy="1481.4" r="4.2"/><circle cx="608.7" cy="1497.3" r="4.2"/><circle cx="619.6" cy="1479.6" r="4.2"/><circle cx="655.0" cy="1515.7" r="4.2"/><circle cx="617.8" cy="1503.3" r="4.2"/><circle cx="628.8" cy="1510.7" r="4.2"/><circle cx="645.0" cy="1481.4" r="4.2"/><circle cx="610.5" cy="1469.2" r="4.2"/><circle cx="635.1" cy="1487.1" r="4.2"/><circle cx="606.2" cy="1486.0" r="4.2"/><circle cx="620.3" cy="1506.7" r="4.2"/><circle cx="603.5" cy="1517.6" r="4.2"/><circle cx="635.1" cy="1498.0" r="4.2"/><circle cx="634.0" cy="1509.7" r="4.2"/><circle cx="667.2" cy="1495.9" r="4.2"/><circle cx="635.2" cy="1504.0" r="4.2"/><circle cx="670.5" cy="1488.0" r="4.2"/><circle cx="659.0" cy="1516.0" r="4.2"/><circle cx="633.9" cy="1479.5" r="4.2"/><circle cx="612.1" cy="1503.9" r="4.2"/><circle cx="653.5" cy="1515.9" r="4.2"/><circle cx="670.3" cy="1480.1" r="4.2"/><circle cx="607.8" cy="1480.9" r="4.2"/><circle cx="607.6" cy="1503.2" r="4.2"/><circle cx="670.7" cy="1513.0" r="4.2"/><circle cx="614.0" cy="1511.3" r="4.2"/><circle cx="619.5" cy="1489.2" r="4.2"/><circle cx="658.5" cy="1472.3" r="4.2"/><circle cx="598.7" cy="1509.7" r="4.2"/><circle cx="617.4" cy="1485.8" r="4.2"/><circle cx="644.5" cy="1501.8" r="4.2"/><circle cx="590.6" cy="1484.7" r="4.2"/><circle cx="631.0" cy="1492.3" r="4.2"/><circle cx="609.7" cy="1497.3" r="4.2"/><circle cx="679.8" cy="1487.5" r="4.2"/><circle cx="641.2" cy="1474.0" r="4.2"/><circle cx="615.8" cy="1501.3" r="4.2"/><circle cx="600.6" cy="1512.4" r="4.2"/><circle cx="675.4" cy="1472.8" r="4.2"/><circle cx="678.5" cy="1486.7" r="4.2"/><circle cx="662.6" cy="1505.9" r="4.2"/><circle cx="617.8" cy="1501.8" r="4.2"/><circle cx="651.5" cy="1508.3" r="4.2"/><circle cx="615.0" cy="1505.7" r="4.2"/><circle cx="680.4" cy="1501.6" r="4.2"/><circle cx="640.4" cy="1473.7" r="4.2"/><circle cx="636.4" cy="1485.6" r="4.2"/><circle cx="657.5" cy="1501.9" r="4.2"/><circle cx="643.2" cy="1477.1" r="4.2"/><circle cx="650.7" cy="1499.5" r="4.2"/><circle cx="606.8" cy="1512.5" r="4.2"/><circle cx="651.6" cy="1474.2" r="4.2"/><circle cx="677.6" cy="1475.1" r="4.2"/><circle cx="621.2" cy="1504.0" r="4.2"/><circle cx="646.2" cy="1495.7" r="4.2"/><circle cx="650.9" cy="1490.9" r="4.2"/><circle cx="619.4" cy="1476.8" r="4.2"/><circle cx="596.4" cy="1503.8" r="4.2"/><circle cx="660.9" cy="1495.2" r="4.2"/><circle cx="659.5" cy="1486.0" r="4.2"/><circle cx="615.0" cy="1487.2" r="4.2"/><circle cx="672.0" cy="1470.1" r="4.2"/><circle cx="637.4" cy="1480.4" r="4.2"/><circle cx="662.3" cy="1485.7" r="4.2"/><circle cx="621.3" cy="1488.2" r="4.2"/><circle cx="640.9" cy="1506.6" r="4.2"/><circle cx="623.2" cy="1510.3" r="4.2"/><circle cx="600.5" cy="1481.5" r="4.2"/><circle cx="599.4" cy="1473.6" r="4.2"/><circle cx="663.2" cy="1504.4" r="4.2"/><circle cx="607.4" cy="1477.5" r="4.2"/><circle cx="629.2" cy="1505.2" r="4.2"/><circle cx="666.7" cy="1505.4" r="4.2"/><circle cx="645.6" cy="1475.3" r="4.2"/><circle cx="627.5" cy="1477.7" r="4.2"/><circle cx="639.6" cy="1496.4" r="4.2"/><circle cx="609.0" cy="1480.5" r="4.2"/><circle cx="663.5" cy="1469.5" r="4.2"/><circle cx="665.5" cy="1512.6" r="4.2"/><circle cx="679.2" cy="1487.2" r="4.2"/><circle cx="616.6" cy="1465.0" r="4.2"/><circle cx="619.0" cy="1469.7" r="4.2"/><circle cx="620.6" cy="1461.6" r="4.2"/><circle cx="625.8" cy="1463.8" r="4.2"/><circle cx="618.0" cy="1466.7" r="4.2"/><circle cx="600.1" cy="1467.2" r="4.2"/><circle cx="619.9" cy="1463.9" r="4.2"/><circle cx="615.7" cy="1463.5" r="4.2"/><circle cx="605.8" cy="1464.4" r="4.2"/><circle cx="601.1" cy="1464.0" r="4.2"/><circle cx="669.4" cy="1463.3" r="4.2"/><circle cx="667.0" cy="1469.5" r="4.2"/><circle cx="676.8" cy="1459.6" r="4.2"/><circle cx="673.8" cy="1465.5" r="4.2"/><circle cx="651.5" cy="1462.3" r="4.2"/><circle cx="657.0" cy="1458.9" r="4.2"/><circle cx="666.2" cy="1469.2" r="4.2"/><circle cx="659.7" cy="1468.4" r="4.2"/><circle cx="670.8" cy="1459.6" r="4.2"/><circle cx="675.7" cy="1465.2" r="4.2"/></g>
<g fill="#ff0000"><circle cx="880.8" cy="1140.7" r="4.2"/><circle cx="880.9" cy="1148.9" r="4.2"/><circle cx="884.4" cy="1195.0" r="4.2"/><circle cx="837.9" cy="1262.2" r="4.2"/><circle cx="888.0" cy="1292.5" r="4.2"/><circle cx="882.0" cy="1327.2" r="4.2"/><circle cx="847.0" cy="1339.0" r="4.2"/><circle cx="878.9" cy="1368.2" r="4.2"/><circle cx="877.0" cy="1376.5" r="4.2"/><circle cx="888.0" cy="1382.8" r="4.2"/><circle cx="866.8" cy="1396.0" r="4.2"/><circle cx="823.4" cy="1402.8" r="4.2"/><circle cx="874.7" cy="1406.3" r="4.2"/><circle cx="878.2" cy="1405.8" r="4.2"/><circle cx="880.7" cy="1411.9" r="4.2"/><circle cx="879.2" cy="1415.9" r="4.2"/><circle cx="895.4" cy="1411.2" r="4.2"/><circle cx="888.8" cy="1423.5" r="4.2"/><circle cx="910.0" cy="1427.5" r="4.2"/><circle cx="866.8" cy="1429.0" r="4.2"/><circle cx="857.5" cy="1433.8" r="4.2"/><circle cx="856.5" cy="1440.7" r="4.2"/><circle cx="822.0" cy="1431.8" r="4.2"/><circle cx="825.5" cy="1442.7" r="4.2"/><circle cx="839.2" cy="1438.8" r="4.2"/><circle cx="880.2" cy="1433.8" r="4.2"/><circle cx="874.2" cy="1442.0" r="4.2"/><circle cx="885.1" cy="1447.7" r="4.2"/><circle cx="894.9" cy="1448.5" r="4.2"/><circle cx="905.5" cy="1452.3" r="4.2"/><circle cx="890.8" cy="1455.3" r="4.2"/><circle cx="893.1" cy="1460.8" r="4.2"/><circle cx="907.8" cy="1461.3" r="4.2"/><circle cx="880.2" cy="1458.3" r="4.2"/><circle cx="862.6" cy="1453.3" r="4.2"/><circle cx="868.6" cy="1451.8" r="4.2"/><circle cx="841.4" cy="1461.8" r="4.2"/><circle cx="850.5" cy="1460.8" r="4.2"/><circle cx="857.0" cy="1464.9" r="4.2"/><circle cx="819.7" cy="1467.4" r="4.2"/><circle cx="846.9" cy="1469.9" r="4.2"/><circle cx="869.1" cy="1467.4" r="4.2"/><circle cx="881.8" cy="1465.9" r="4.2"/><circle cx="902.9" cy="1467.9" r="4.2"/><circle cx="820.7" cy="1476.0" r="4.2"/><circle cx="834.8" cy="1475.5" r="4.2"/><circle cx="839.4" cy="1478.5" r="4.2"/><circle cx="823.2" cy="1480.0" r="4.2"/><circle cx="819.7" cy="1484.6" r="4.2"/><circle cx="847.9" cy="1482.0" r="4.2"/><circle cx="857.0" cy="1478.5" r="4.2"/><circle cx="863.6" cy="1476.0" r="4.2"/><circle cx="871.7" cy="1477.0" r="4.2"/><circle cx="880.7" cy="1479.0" r="4.2"/><circle cx="889.8" cy="1476.5" r="4.2"/><circle cx="899.9" cy="1473.0" r="4.2"/><circle cx="902.9" cy="1479.0" r="4.2"/><circle cx="896.9" cy="1482.5" r="4.2"/><circle cx="887.8" cy="1482.0" r="4.2"/><circle cx="906.0" cy="1485.1" r="4.2"/><circle cx="829.3" cy="1487.1" r="4.2"/><circle cx="841.4" cy="1487.1" r="4.2"/><circle cx="854.5" cy="1488.1" r="4.2"/><circle cx="866.6" cy="1486.1" r="4.2"/><circle cx="876.7" cy="1488.1" r="4.2"/><circle cx="822.2" cy="1496.2" r="4.2"/><circle cx="830.3" cy="1495.2" r="4.2"/><circle cx="843.4" cy="1496.2" r="4.2"/><circle cx="850.5" cy="1493.1" r="4.2"/><circle cx="860.6" cy="1495.2" r="4.2"/><circle cx="870.7" cy="1497.2" r="4.2"/><circle cx="880.7" cy="1496.2" r="4.2"/><circle cx="893.9" cy="1495.2" r="4.2"/><circle cx="907.0" cy="1497.2" r="4.2"/><circle cx="909.5" cy="1502.2" r="4.2"/><circle cx="826.2" cy="1503.2" r="4.2"/><circle cx="835.3" cy="1504.2" r="4.2"/><circle cx="848.4" cy="1502.2" r="4.2"/><circle cx="856.5" cy="1503.2" r="4.2"/><circle cx="865.6" cy="1501.2" r="4.2"/><circle cx="876.7" cy="1502.2" r="4.2"/><circle cx="890.8" cy="1502.2" r="4.2"/><circle cx="898.9" cy="1503.2" r="4.2"/><circle cx="820.7" cy="1513.8" r="4.2"/><circle cx="830.3" cy="1511.3" r="4.2"/><circle cx="835.3" cy="1511.3" r="4.2"/><circle cx="842.4" cy="1512.3" r="4.2"/><circle cx="850.5" cy="1511.3" r="4.2"/><circle cx="861.6" cy="1510.3" r="4.2"/><circle cx="872.7" cy="1513.3" r="4.2"/><circle cx="885.8" cy="1510.3" r="4.2"/><circle cx="896.9" cy="1511.3" r="4.2"/><circle cx="909.0" cy="1510.3" r="4.2"/><circle cx="862.1" cy="1518.4" r="4.2"/><circle cx="867.6" cy="1523.4" r="4.2"/><circle cx="873.7" cy="1520.4" r="4.2"/><circle cx="880.7" cy="1522.4" r="4.2"/><circle cx="896.9" cy="1519.4" r="4.2"/><circle cx="906.0" cy="1520.4" r="4.2"/><circle cx="838.0" cy="1490.0" r="4.2"/><circle cx="860.0" cy="1490.0" r="4.2"/><circle cx="885.0" cy="1490.0" r="4.2"/><circle cx="900.0" cy="1490.0" r="4.2"/><circle cx="846.0" cy="1505.0" r="4.2"/><circle cx="870.0" cy="1506.0" r="4.2"/><circle cx="885.0" cy="1503.0" r="4.2"/><circle cx="827.0" cy="1490.0" r="4.2"/><circle cx="890.0" cy="1515.0" r="4.2"/><circle cx="855.0" cy="1517.0" r="4.2"/><circle cx="828.7" cy="1485.4" r="4.2"/><circle cx="848.1" cy="1515.6" r="4.2"/><circle cx="864.7" cy="1507.7" r="4.2"/><circle cx="830.6" cy="1498.4" r="4.2"/><circle cx="894.5" cy="1499.0" r="4.2"/><circle cx="903.2" cy="1514.8" r="4.2"/><circle cx="853.9" cy="1476.0" r="4.2"/><circle cx="887.0" cy="1481.6" r="4.2"/><circle cx="822.8" cy="1508.2" r="4.2"/><circle cx="894.5" cy="1512.8" r="4.2"/><circle cx="904.0" cy="1484.9" r="4.2"/><circle cx="829.0" cy="1481.3" r="4.2"/><circle cx="906.1" cy="1480.9" r="4.2"/><circle cx="835.7" cy="1476.9" r="4.2"/><circle cx="826.2" cy="1477.7" r="4.2"/><circle cx="852.4" cy="1483.2" r="4.2"/><circle cx="848.6" cy="1516.9" r="4.2"/><circle cx="836.4" cy="1511.8" r="4.2"/><circle cx="885.5" cy="1501.0" r="4.2"/><circle cx="871.5" cy="1509.9" r="4.2"/><circle cx="872.5" cy="1486.1" r="4.2"/><circle cx="850.3" cy="1486.7" r="4.2"/><circle cx="856.5" cy="1519.4" r="4.2"/><circle cx="858.7" cy="1479.1" r="4.2"/><circle cx="863.0" cy="1511.8" r="4.2"/><circle cx="860.3" cy="1506.9" r="4.2"/><circle cx="829.8" cy="1478.7" r="4.2"/><circle cx="878.9" cy="1478.1" r="4.2"/><circle cx="848.0" cy="1492.9" r="4.2"/><circle cx="838.6" cy="1477.6" r="4.2"/><circle cx="822.6" cy="1517.9" r="4.2"/><circle cx="881.2" cy="1517.9" r="4.2"/><circle cx="864.3" cy="1518.0" r="4.2"/><circle cx="896.2" cy="1503.2" r="4.2"/><circle cx="867.2" cy="1498.4" r="4.2"/><circle cx="841.4" cy="1492.6" r="4.2"/><circle cx="884.2" cy="1484.6" r="4.2"/><circle cx="895.1" cy="1498.4" r="4.2"/><circle cx="874.0" cy="1512.2" r="4.2"/><circle cx="877.6" cy="1482.1" r="4.2"/><circle cx="843.3" cy="1476.0" r="4.2"/><circle cx="824.4" cy="1517.9" r="4.2"/><circle cx="873.0" cy="1518.6" r="4.2"/><circle cx="889.1" cy="1489.9" r="4.2"/><circle cx="905.2" cy="1516.6" r="4.2"/></g>
<path d="M407.5 946.3V931.2H864.7V946.3" stroke="#000" stroke-width="1.6" fill="none"/>
<text transform="translate(636.1 919.8) scale(1 0.84)" text-anchor="middle" style="font-family:'Liberation Sans',Arial,Helvetica,sans-serif;font-size:29px" fill="#000">****</text>
<path d="M178.9 1007.2V992.0H636.1V1007.2" stroke="#000" stroke-width="1.6" fill="none"/>
<text transform="translate(407.5 980.6) scale(1 0.84)" text-anchor="middle" style="font-family:'Liberation Sans',Arial,Helvetica,sans-serif;font-size:29px" fill="#000">***</text>
</svg>
</body></html>
